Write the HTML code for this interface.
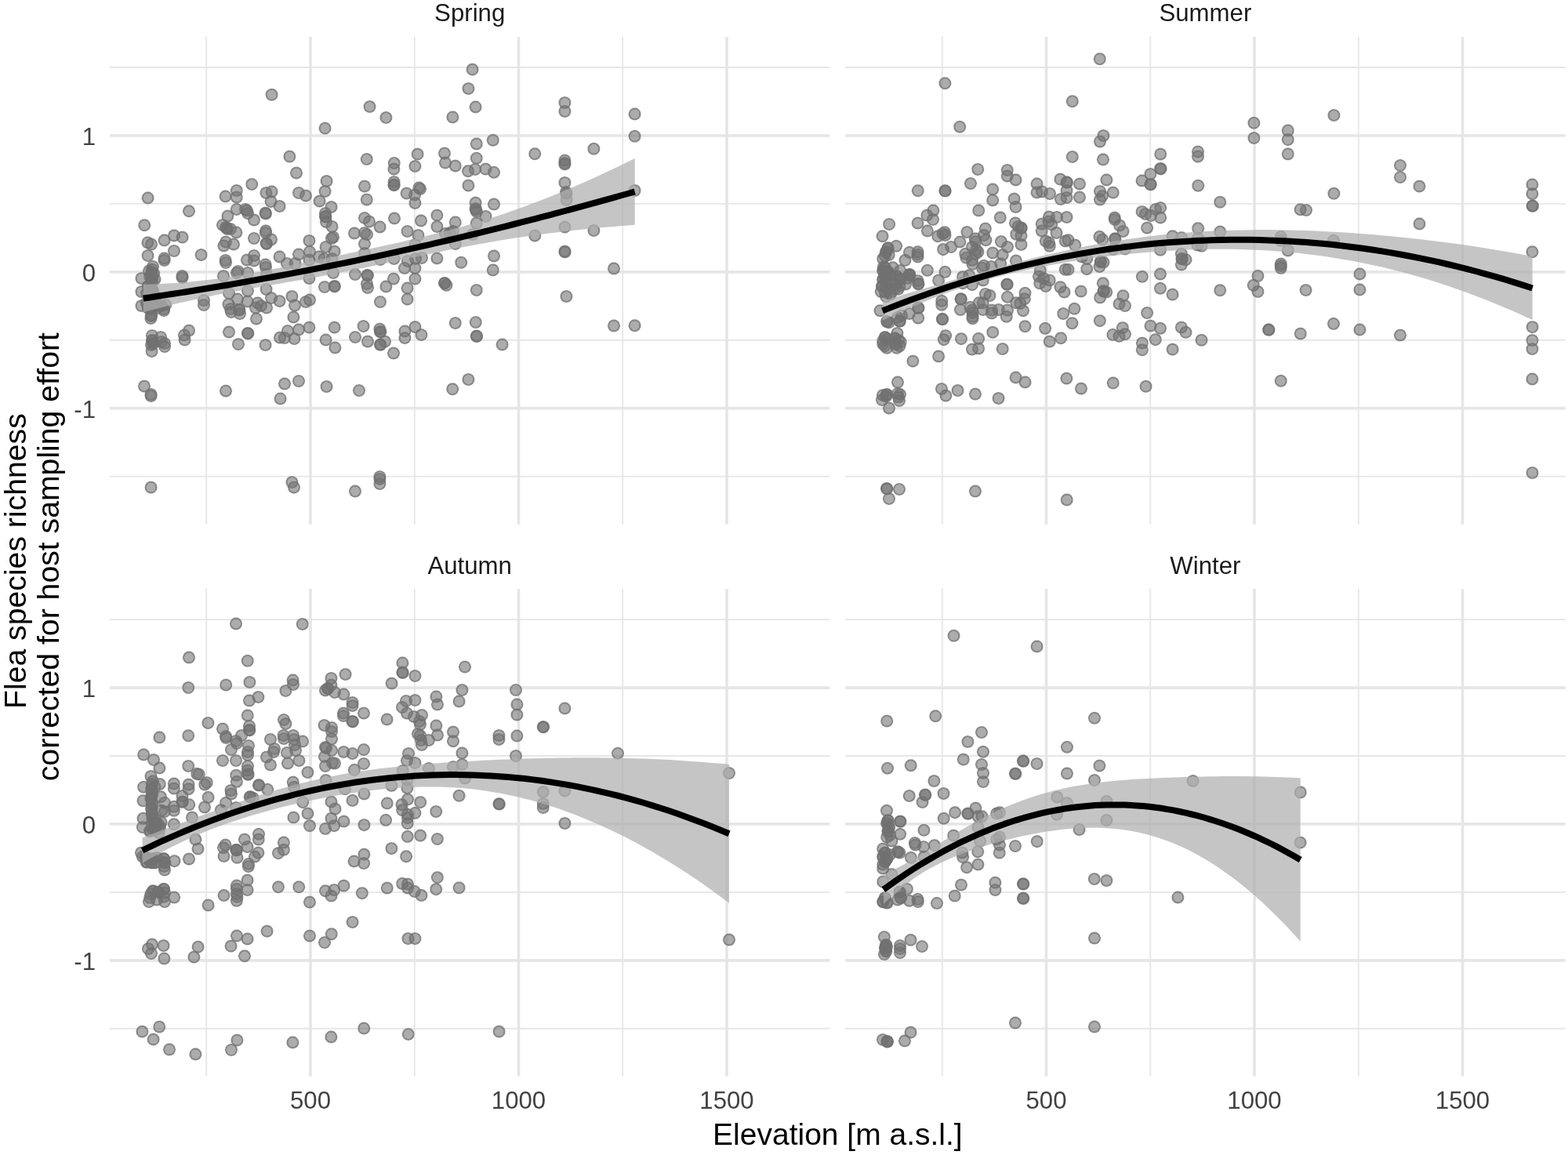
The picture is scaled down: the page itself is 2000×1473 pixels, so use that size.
<!DOCTYPE html>
<html lang="en"><head><meta charset="utf-8"><title>Flea species richness vs elevation by season</title><style>html,body{margin:0;padding:0;background:#fff}body{width:2000px;height:1473px;overflow:hidden}svg{display:block}</style></head><body>
<svg xmlns="http://www.w3.org/2000/svg" width="2000" height="1473" viewBox="0 0 2000 1473">
<defs><radialGradient id="d"><stop offset="0" stop-color="#707070" stop-opacity=".58"/><stop offset=".70" stop-color="#707070" stop-opacity=".58"/><stop offset=".72" stop-color="#707070" stop-opacity=".82"/><stop offset=".93" stop-color="#707070" stop-opacity=".82"/><stop offset=".95" stop-color="#707070" stop-opacity=".58"/><stop offset="1" stop-color="#707070" stop-opacity=".58"/></radialGradient></defs>
<rect width="2000" height="1473" fill="#fff"/>
<g stroke="#e6e6e6" fill="none"><path d="M140.0 607.6H1058.5" stroke-width="1.85"/><path d="M140.0 433.7H1058.5" stroke-width="1.85"/><path d="M140.0 259.9H1058.5" stroke-width="1.85"/><path d="M140.0 86.0H1058.5" stroke-width="1.85"/><path d="M263.2 47.0V668.7" stroke-width="1.85"/><path d="M528.8 47.0V668.7" stroke-width="1.85"/><path d="M794.2 47.0V668.7" stroke-width="1.85"/><path d="M140.0 520.6H1058.5" stroke-width="3.7"/><path d="M140.0 346.8H1058.5" stroke-width="3.7"/><path d="M140.0 173.0H1058.5" stroke-width="3.7"/><path d="M396.0 47.0V668.7" stroke-width="3.7"/><path d="M661.5 47.0V668.7" stroke-width="3.7"/><path d="M927.0 47.0V668.7" stroke-width="3.7"/><path d="M1078.1 607.6H1996.7" stroke-width="1.85"/><path d="M1078.1 433.7H1996.7" stroke-width="1.85"/><path d="M1078.1 259.9H1996.7" stroke-width="1.85"/><path d="M1078.1 86.0H1996.7" stroke-width="1.85"/><path d="M1201.8 47.0V668.7" stroke-width="1.85"/><path d="M1467.2 47.0V668.7" stroke-width="1.85"/><path d="M1732.8 47.0V668.7" stroke-width="1.85"/><path d="M1078.1 520.6H1996.7" stroke-width="3.7"/><path d="M1078.1 346.8H1996.7" stroke-width="3.7"/><path d="M1078.1 173.0H1996.7" stroke-width="3.7"/><path d="M1334.5 47.0V668.7" stroke-width="3.7"/><path d="M1600.0 47.0V668.7" stroke-width="3.7"/><path d="M1865.5 47.0V668.7" stroke-width="3.7"/><path d="M140.0 1311.7H1058.5" stroke-width="1.85"/><path d="M140.0 1137.8H1058.5" stroke-width="1.85"/><path d="M140.0 964.0H1058.5" stroke-width="1.85"/><path d="M140.0 790.1H1058.5" stroke-width="1.85"/><path d="M263.2 751.0V1372.6" stroke-width="1.85"/><path d="M528.8 751.0V1372.6" stroke-width="1.85"/><path d="M794.2 751.0V1372.6" stroke-width="1.85"/><path d="M140.0 1224.8H1058.5" stroke-width="3.7"/><path d="M140.0 1050.9H1058.5" stroke-width="3.7"/><path d="M140.0 877.1H1058.5" stroke-width="3.7"/><path d="M396.0 751.0V1372.6" stroke-width="3.7"/><path d="M661.5 751.0V1372.6" stroke-width="3.7"/><path d="M927.0 751.0V1372.6" stroke-width="3.7"/><path d="M1078.1 1311.7H1996.7" stroke-width="1.85"/><path d="M1078.1 1137.8H1996.7" stroke-width="1.85"/><path d="M1078.1 964.0H1996.7" stroke-width="1.85"/><path d="M1078.1 790.1H1996.7" stroke-width="1.85"/><path d="M1201.8 751.0V1372.6" stroke-width="1.85"/><path d="M1467.2 751.0V1372.6" stroke-width="1.85"/><path d="M1732.8 751.0V1372.6" stroke-width="1.85"/><path d="M1078.1 1224.8H1996.7" stroke-width="3.7"/><path d="M1078.1 1050.9H1996.7" stroke-width="3.7"/><path d="M1078.1 877.1H1996.7" stroke-width="3.7"/><path d="M1334.5 751.0V1372.6" stroke-width="3.7"/><path d="M1600.0 751.0V1372.6" stroke-width="3.7"/><path d="M1865.5 751.0V1372.6" stroke-width="3.7"/></g>
<g fill="url(#d)"><circle cx="346.6" cy="120.8" r="8.1"/><circle cx="471.6" cy="136.0" r="8.1"/><circle cx="492.4" cy="150.0" r="8.1"/><circle cx="414.6" cy="163.6" r="8.1"/><circle cx="369.4" cy="199.6" r="8.1"/><circle cx="467.8" cy="203.0" r="8.1"/><circle cx="532.6" cy="196.6" r="8.1"/><circle cx="567.0" cy="195.6" r="8.1"/><circle cx="502.8" cy="208.0" r="8.1"/><circle cx="502.4" cy="215.6" r="8.1"/><circle cx="529.4" cy="212.0" r="8.1"/><circle cx="568.0" cy="207.6" r="8.1"/><circle cx="378.0" cy="220.6" r="8.1"/><circle cx="416.6" cy="231.0" r="8.1"/><circle cx="321.2" cy="235.0" r="8.1"/><circle cx="502.6" cy="232.0" r="8.1"/><circle cx="502.6" cy="235.6" r="8.1"/><circle cx="502.6" cy="236.2" r="8.1"/><circle cx="465.0" cy="237.6" r="8.1"/><circle cx="301.8" cy="243.0" r="8.1"/><circle cx="339.4" cy="246.0" r="8.1"/><circle cx="346.6" cy="244.4" r="8.1"/><circle cx="414.6" cy="244.0" r="8.1"/><circle cx="381.0" cy="246.0" r="8.1"/><circle cx="390.0" cy="249.6" r="8.1"/><circle cx="534.4" cy="239.4" r="8.1"/><circle cx="536.0" cy="241.0" r="8.1"/><circle cx="518.6" cy="246.6" r="8.1"/><circle cx="529.0" cy="248.6" r="8.1"/><circle cx="287.6" cy="250.4" r="8.1"/><circle cx="301.8" cy="251.6" r="8.1"/><circle cx="188.6" cy="252.4" r="8.1"/><circle cx="407.6" cy="256.6" r="8.1"/><circle cx="345.6" cy="257.0" r="8.1"/><circle cx="467.8" cy="254.6" r="8.1"/><circle cx="529.4" cy="259.0" r="8.1"/><circle cx="356.6" cy="263.0" r="8.1"/><circle cx="422.6" cy="264.0" r="8.1"/><circle cx="301.8" cy="267.0" r="8.1"/><circle cx="313.0" cy="267.0" r="8.1"/><circle cx="315.0" cy="268.6" r="8.1"/><circle cx="316.0" cy="272.0" r="8.1"/><circle cx="241.0" cy="269.2" r="8.1"/><circle cx="338.6" cy="271.6" r="8.1"/><circle cx="339.0" cy="272.6" r="8.1"/><circle cx="415.0" cy="272.0" r="8.1"/><circle cx="415.0" cy="276.0" r="8.1"/><circle cx="415.4" cy="276.6" r="8.1"/><circle cx="290.4" cy="275.6" r="8.1"/><circle cx="324.0" cy="280.6" r="8.1"/><circle cx="557.4" cy="274.6" r="8.1"/><circle cx="503.0" cy="278.4" r="8.1"/><circle cx="465.0" cy="278.0" r="8.1"/><circle cx="471.0" cy="282.6" r="8.1"/><circle cx="537.0" cy="281.4" r="8.1"/><circle cx="416.0" cy="283.0" r="8.1"/><circle cx="184.2" cy="287.2" r="8.1"/><circle cx="284.0" cy="287.0" r="8.1"/><circle cx="288.0" cy="290.0" r="8.1"/><circle cx="290.0" cy="292.0" r="8.1"/><circle cx="294.0" cy="292.0" r="8.1"/><circle cx="289.6" cy="291.0" r="8.1"/><circle cx="423.6" cy="289.0" r="8.1"/><circle cx="484.6" cy="289.4" r="8.1"/><circle cx="557.4" cy="289.0" r="8.1"/><circle cx="339.0" cy="294.4" r="8.1"/><circle cx="339.0" cy="297.0" r="8.1"/><circle cx="301.4" cy="296.4" r="8.1"/><circle cx="519.6" cy="295.0" r="8.1"/><circle cx="452.0" cy="297.4" r="8.1"/><circle cx="465.0" cy="297.0" r="8.1"/><circle cx="468.0" cy="299.0" r="8.1"/><circle cx="533.4" cy="300.0" r="8.1"/><circle cx="222.0" cy="300.4" r="8.1"/><circle cx="232.6" cy="302.6" r="8.1"/><circle cx="324.0" cy="304.0" r="8.1"/><circle cx="425.0" cy="302.4" r="8.1"/><circle cx="423.0" cy="304.0" r="8.1"/><circle cx="209.6" cy="306.4" r="8.1"/><circle cx="394.4" cy="307.0" r="8.1"/><circle cx="346.0" cy="305.4" r="8.1"/><circle cx="339.6" cy="310.2" r="8.1"/><circle cx="340.0" cy="311.0" r="8.1"/><circle cx="188.4" cy="309.4" r="8.1"/><circle cx="193.0" cy="311.6" r="8.1"/><circle cx="288.0" cy="308.6" r="8.1"/><circle cx="298.0" cy="311.6" r="8.1"/><circle cx="285.4" cy="313.4" r="8.1"/><circle cx="465.0" cy="311.0" r="8.1"/><circle cx="529.4" cy="312.0" r="8.1"/><circle cx="415.6" cy="315.0" r="8.1"/><circle cx="568.0" cy="298.0" r="8.1"/><circle cx="222.0" cy="320.0" r="8.1"/><circle cx="426.6" cy="320.6" r="8.1"/><circle cx="395.0" cy="321.0" r="8.1"/><circle cx="188.6" cy="326.0" r="8.1"/><circle cx="256.6" cy="325.0" r="8.1"/><circle cx="381.0" cy="324.4" r="8.1"/><circle cx="324.0" cy="326.0" r="8.1"/><circle cx="356.6" cy="327.4" r="8.1"/><circle cx="407.0" cy="327.4" r="8.1"/><circle cx="465.0" cy="323.0" r="8.1"/><circle cx="209.6" cy="329.4" r="8.1"/><circle cx="209.6" cy="332.0" r="8.1"/><circle cx="315.0" cy="331.6" r="8.1"/><circle cx="324.0" cy="332.4" r="8.1"/><circle cx="287.6" cy="332.0" r="8.1"/><circle cx="288.0" cy="335.0" r="8.1"/><circle cx="394.4" cy="331.6" r="8.1"/><circle cx="423.6" cy="330.0" r="8.1"/><circle cx="413.6" cy="330.0" r="8.1"/><circle cx="338.6" cy="337.4" r="8.1"/><circle cx="366.0" cy="336.0" r="8.1"/><circle cx="376.6" cy="336.0" r="8.1"/><circle cx="502.6" cy="330.0" r="8.1"/><circle cx="485.0" cy="331.0" r="8.1"/><circle cx="538.0" cy="329.0" r="8.1"/><circle cx="557.4" cy="329.4" r="8.1"/><circle cx="530.0" cy="330.0" r="8.1"/><circle cx="520.0" cy="333.0" r="8.1"/><circle cx="602.6" cy="88.6" r="8.1"/><circle cx="597.4" cy="113.0" r="8.1"/><circle cx="606.6" cy="136.4" r="8.1"/><circle cx="577.4" cy="149.4" r="8.1"/><circle cx="720.4" cy="131.0" r="8.1"/><circle cx="720.4" cy="142.0" r="8.1"/><circle cx="809.6" cy="145.4" r="8.1"/><circle cx="809.6" cy="173.8" r="8.1"/><circle cx="628.8" cy="178.8" r="8.1"/><circle cx="607.8" cy="183.4" r="8.1"/><circle cx="757.4" cy="189.8" r="8.1"/><circle cx="682.2" cy="196.2" r="8.1"/><circle cx="607.8" cy="201.8" r="8.1"/><circle cx="720.4" cy="204.6" r="8.1"/><circle cx="720.4" cy="208.0" r="8.1"/><circle cx="720.4" cy="209.4" r="8.1"/><circle cx="580.8" cy="211.6" r="8.1"/><circle cx="597.0" cy="218.2" r="8.1"/><circle cx="606.0" cy="216.0" r="8.1"/><circle cx="619.4" cy="215.6" r="8.1"/><circle cx="630.0" cy="219.8" r="8.1"/><circle cx="597.4" cy="236.6" r="8.1"/><circle cx="720.4" cy="233.0" r="8.1"/><circle cx="722.0" cy="245.0" r="8.1"/><circle cx="722.6" cy="247.0" r="8.1"/><circle cx="722.6" cy="255.0" r="8.1"/><circle cx="809.6" cy="243.0" r="8.1"/><circle cx="606.6" cy="258.6" r="8.1"/><circle cx="630.0" cy="260.4" r="8.1"/><circle cx="606.6" cy="266.0" r="8.1"/><circle cx="607.0" cy="268.0" r="8.1"/><circle cx="608.0" cy="270.0" r="8.1"/><circle cx="619.6" cy="276.0" r="8.1"/><circle cx="580.8" cy="283.4" r="8.1"/><circle cx="607.8" cy="284.6" r="8.1"/><circle cx="578.0" cy="295.0" r="8.1"/><circle cx="574.0" cy="297.0" r="8.1"/><circle cx="720.4" cy="289.6" r="8.1"/><circle cx="757.4" cy="294.0" r="8.1"/><circle cx="682.2" cy="300.6" r="8.1"/><circle cx="603.0" cy="299.0" r="8.1"/><circle cx="580.8" cy="311.0" r="8.1"/><circle cx="720.4" cy="320.6" r="8.1"/><circle cx="720.6" cy="321.4" r="8.1"/><circle cx="630.0" cy="326.4" r="8.1"/><circle cx="588.2" cy="334.8" r="8.1"/><circle cx="180.4" cy="355.0" r="8.1"/><circle cx="232.4" cy="352.0" r="8.1"/><circle cx="232.6" cy="354.0" r="8.1"/><circle cx="285.0" cy="352.0" r="8.1"/><circle cx="302.0" cy="348.0" r="8.1"/><circle cx="303.6" cy="346.0" r="8.1"/><circle cx="316.0" cy="348.0" r="8.1"/><circle cx="339.0" cy="341.0" r="8.1"/><circle cx="340.0" cy="350.0" r="8.1"/><circle cx="516.0" cy="342.0" r="8.1"/><circle cx="529.4" cy="342.0" r="8.1"/><circle cx="453.0" cy="350.0" r="8.1"/><circle cx="468.6" cy="351.0" r="8.1"/><circle cx="468.9" cy="351.3" r="8.1"/><circle cx="425.0" cy="348.0" r="8.1"/><circle cx="394.4" cy="355.0" r="8.1"/><circle cx="529.4" cy="355.6" r="8.1"/><circle cx="502.0" cy="355.6" r="8.1"/><circle cx="468.0" cy="362.0" r="8.1"/><circle cx="469.0" cy="367.0" r="8.1"/><circle cx="414.0" cy="366.0" r="8.1"/><circle cx="426.6" cy="365.0" r="8.1"/><circle cx="426.9" cy="365.3" r="8.1"/><circle cx="492.4" cy="365.4" r="8.1"/><circle cx="519.6" cy="367.4" r="8.1"/><circle cx="567.0" cy="361.0" r="8.1"/><circle cx="567.3" cy="361.3" r="8.1"/><circle cx="339.6" cy="369.0" r="8.1"/><circle cx="316.0" cy="371.0" r="8.1"/><circle cx="292.0" cy="374.0" r="8.1"/><circle cx="180.4" cy="372.0" r="8.1"/><circle cx="372.4" cy="378.0" r="8.1"/><circle cx="346.0" cy="380.0" r="8.1"/><circle cx="303.0" cy="381.4" r="8.1"/><circle cx="395.0" cy="382.4" r="8.1"/><circle cx="390.0" cy="385.0" r="8.1"/><circle cx="519.6" cy="381.6" r="8.1"/><circle cx="485.0" cy="385.0" r="8.1"/><circle cx="356.6" cy="384.0" r="8.1"/><circle cx="315.6" cy="384.4" r="8.1"/><circle cx="328.6" cy="386.4" r="8.1"/><circle cx="291.4" cy="388.0" r="8.1"/><circle cx="260.0" cy="383.0" r="8.1"/><circle cx="260.0" cy="389.0" r="8.1"/><circle cx="376.0" cy="389.4" r="8.1"/><circle cx="180.4" cy="390.0" r="8.1"/><circle cx="333.0" cy="390.0" r="8.1"/><circle cx="340.0" cy="392.4" r="8.1"/><circle cx="326.0" cy="392.4" r="8.1"/><circle cx="209.0" cy="394.0" r="8.1"/><circle cx="294.0" cy="394.0" r="8.1"/><circle cx="295.0" cy="398.0" r="8.1"/><circle cx="305.0" cy="395.0" r="8.1"/><circle cx="305.3" cy="395.3" r="8.1"/><circle cx="306.0" cy="400.0" r="8.1"/><circle cx="193.0" cy="402.0" r="8.1"/><circle cx="192.4" cy="406.0" r="8.1"/><circle cx="327.0" cy="406.6" r="8.1"/><circle cx="374.4" cy="404.4" r="8.1"/><circle cx="394.4" cy="417.6" r="8.1"/><circle cx="426.6" cy="417.6" r="8.1"/><circle cx="463.6" cy="416.0" r="8.1"/><circle cx="484.4" cy="419.6" r="8.1"/><circle cx="485.0" cy="423.0" r="8.1"/><circle cx="485.3" cy="423.3" r="8.1"/><circle cx="529.4" cy="417.0" r="8.1"/><circle cx="516.4" cy="422.4" r="8.1"/><circle cx="241.0" cy="421.6" r="8.1"/><circle cx="381.0" cy="420.4" r="8.1"/><circle cx="367.0" cy="422.0" r="8.1"/><circle cx="292.0" cy="423.4" r="8.1"/><circle cx="316.0" cy="425.0" r="8.1"/><circle cx="316.3" cy="425.3" r="8.1"/><circle cx="235.0" cy="427.4" r="8.1"/><circle cx="537.4" cy="427.0" r="8.1"/><circle cx="194.0" cy="428.0" r="8.1"/><circle cx="205.0" cy="430.0" r="8.1"/><circle cx="453.0" cy="430.0" r="8.1"/><circle cx="357.0" cy="430.6" r="8.1"/><circle cx="363.0" cy="431.0" r="8.1"/><circle cx="375.4" cy="432.0" r="8.1"/><circle cx="516.4" cy="431.0" r="8.1"/><circle cx="235.6" cy="433.4" r="8.1"/><circle cx="415.6" cy="433.4" r="8.1"/><circle cx="469.0" cy="435.6" r="8.1"/><circle cx="491.0" cy="435.6" r="8.1"/><circle cx="485.0" cy="439.4" r="8.1"/><circle cx="485.3" cy="439.7" r="8.1"/><circle cx="194.0" cy="434.0" r="8.1"/><circle cx="194.3" cy="434.3" r="8.1"/><circle cx="195.0" cy="438.0" r="8.1"/><circle cx="195.3" cy="438.3" r="8.1"/><circle cx="193.0" cy="440.0" r="8.1"/><circle cx="206.0" cy="436.0" r="8.1"/><circle cx="210.0" cy="438.0" r="8.1"/><circle cx="210.0" cy="442.0" r="8.1"/><circle cx="304.0" cy="439.0" r="8.1"/><circle cx="338.6" cy="440.0" r="8.1"/><circle cx="427.4" cy="443.4" r="8.1"/><circle cx="193.6" cy="448.0" r="8.1"/><circle cx="502.0" cy="450.4" r="8.1"/><circle cx="184.0" cy="492.6" r="8.1"/><circle cx="192.6" cy="503.0" r="8.1"/><circle cx="192.6" cy="505.0" r="8.1"/><circle cx="288.0" cy="498.6" r="8.1"/><circle cx="363.0" cy="489.4" r="8.1"/><circle cx="381.0" cy="486.0" r="8.1"/><circle cx="357.6" cy="508.4" r="8.1"/><circle cx="416.6" cy="493.0" r="8.1"/><circle cx="458.0" cy="498.0" r="8.1"/><circle cx="192.6" cy="621.6" r="8.1"/><circle cx="372.4" cy="615.0" r="8.1"/><circle cx="375.0" cy="621.6" r="8.1"/><circle cx="484.4" cy="608.0" r="8.1"/><circle cx="484.4" cy="611.0" r="8.1"/><circle cx="484.4" cy="617.0" r="8.1"/><circle cx="453.0" cy="626.4" r="8.1"/><circle cx="628.8" cy="344.4" r="8.1"/><circle cx="783.0" cy="342.4" r="8.1"/><circle cx="607.8" cy="370.0" r="8.1"/><circle cx="722.4" cy="378.0" r="8.1"/><circle cx="580.8" cy="412.0" r="8.1"/><circle cx="606.8" cy="411.0" r="8.1"/><circle cx="783.0" cy="415.4" r="8.1"/><circle cx="809.6" cy="415.2" r="8.1"/><circle cx="607.8" cy="428.6" r="8.1"/><circle cx="608.1" cy="428.9" r="8.1"/><circle cx="640.6" cy="439.4" r="8.1"/><circle cx="597.4" cy="484.0" r="8.1"/><circle cx="577.2" cy="496.2" r="8.1"/><circle cx="195.0" cy="340.0" r="8.1"/><circle cx="194.0" cy="343.5" r="8.1"/><circle cx="193.2" cy="347.0" r="8.1"/><circle cx="193.5" cy="350.5" r="8.1"/><circle cx="194.0" cy="354.0" r="8.1"/><circle cx="194.5" cy="357.0" r="8.1"/><circle cx="193.8" cy="348.5" r="8.1"/><circle cx="193.0" cy="403.0" r="8.1"/><circle cx="209.0" cy="396.0" r="8.1"/><circle cx="190.0" cy="345.6" r="8.1"/><circle cx="196.2" cy="348.8" r="8.1"/><circle cx="191.2" cy="353.1" r="8.1"/><circle cx="197.5" cy="356.2" r="8.1"/><circle cx="193.1" cy="360.0" r="8.1"/><circle cx="188.8" cy="365.0" r="8.1"/><circle cx="189.1" cy="365.3" r="8.1"/><circle cx="193.1" cy="366.2" r="8.1"/><circle cx="193.4" cy="366.6" r="8.1"/><circle cx="190.0" cy="370.0" r="8.1"/><circle cx="190.3" cy="370.3" r="8.1"/><circle cx="195.0" cy="371.2" r="8.1"/><circle cx="195.3" cy="371.6" r="8.1"/><circle cx="191.2" cy="375.0" r="8.1"/><circle cx="191.6" cy="375.3" r="8.1"/><circle cx="186.9" cy="373.8" r="8.1"/><circle cx="186.9" cy="386.2" r="8.1"/><circle cx="187.2" cy="386.6" r="8.1"/><circle cx="191.2" cy="387.5" r="8.1"/><circle cx="191.6" cy="387.8" r="8.1"/><circle cx="196.2" cy="388.8" r="8.1"/><circle cx="196.6" cy="389.1" r="8.1"/><circle cx="201.2" cy="387.5" r="8.1"/><circle cx="201.6" cy="387.8" r="8.1"/><circle cx="206.2" cy="390.0" r="8.1"/><circle cx="211.2" cy="388.8" r="8.1"/><circle cx="188.8" cy="392.5" r="8.1"/><circle cx="189.1" cy="392.8" r="8.1"/><circle cx="193.8" cy="393.8" r="8.1"/><circle cx="194.1" cy="394.1" r="8.1"/><circle cx="200.0" cy="393.1" r="8.1"/><circle cx="569.4" cy="363.8" r="8.1"/></g>
<g fill="url(#d)"><circle cx="1402.8" cy="75.2" r="8.1"/><circle cx="1205.4" cy="106.2" r="8.1"/><circle cx="1367.8" cy="129.2" r="8.1"/><circle cx="1224.2" cy="161.8" r="8.1"/><circle cx="1407.4" cy="173.0" r="8.1"/><circle cx="1403.0" cy="180.6" r="8.1"/><circle cx="1367.8" cy="200.0" r="8.1"/><circle cx="1407.0" cy="203.4" r="8.1"/><circle cx="1480.2" cy="196.6" r="8.1"/><circle cx="1480.2" cy="215.0" r="8.1"/><circle cx="1480.5" cy="215.3" r="8.1"/><circle cx="1247.2" cy="216.0" r="8.1"/><circle cx="1284.8" cy="217.0" r="8.1"/><circle cx="1284.8" cy="224.6" r="8.1"/><circle cx="1467.4" cy="222.0" r="8.1"/><circle cx="1295.6" cy="229.4" r="8.1"/><circle cx="1352.4" cy="228.6" r="8.1"/><circle cx="1360.6" cy="232.4" r="8.1"/><circle cx="1360.9" cy="232.7" r="8.1"/><circle cx="1411.4" cy="229.4" r="8.1"/><circle cx="1456.6" cy="230.4" r="8.1"/><circle cx="1467.4" cy="235.0" r="8.1"/><circle cx="1467.7" cy="235.3" r="8.1"/><circle cx="1238.0" cy="234.0" r="8.1"/><circle cx="1322.6" cy="234.4" r="8.1"/><circle cx="1377.0" cy="234.6" r="8.1"/><circle cx="1170.8" cy="243.2" r="8.1"/><circle cx="1205.4" cy="243.2" r="8.1"/><circle cx="1205.7" cy="243.5" r="8.1"/><circle cx="1266.2" cy="241.4" r="8.1"/><circle cx="1360.6" cy="243.0" r="8.1"/><circle cx="1322.6" cy="245.4" r="8.1"/><circle cx="1329.0" cy="244.4" r="8.1"/><circle cx="1339.0" cy="247.0" r="8.1"/><circle cx="1403.0" cy="244.0" r="8.1"/><circle cx="1419.8" cy="245.6" r="8.1"/><circle cx="1406.0" cy="250.0" r="8.1"/><circle cx="1377.0" cy="251.6" r="8.1"/><circle cx="1360.6" cy="252.0" r="8.1"/><circle cx="1353.0" cy="254.0" r="8.1"/><circle cx="1403.0" cy="254.4" r="8.1"/><circle cx="1293.6" cy="253.6" r="8.1"/><circle cx="1266.2" cy="255.4" r="8.1"/><circle cx="1295.6" cy="264.0" r="8.1"/><circle cx="1248.2" cy="268.4" r="8.1"/><circle cx="1190.4" cy="268.4" r="8.1"/><circle cx="1480.2" cy="265.0" r="8.1"/><circle cx="1474.0" cy="267.0" r="8.1"/><circle cx="1456.6" cy="270.0" r="8.1"/><circle cx="1461.0" cy="273.0" r="8.1"/><circle cx="1468.0" cy="275.0" r="8.1"/><circle cx="1182.4" cy="274.6" r="8.1"/><circle cx="1480.2" cy="277.6" r="8.1"/><circle cx="1338.0" cy="276.6" r="8.1"/><circle cx="1348.0" cy="277.0" r="8.1"/><circle cx="1360.6" cy="277.0" r="8.1"/><circle cx="1275.8" cy="277.4" r="8.1"/><circle cx="1421.8" cy="277.6" r="8.1"/><circle cx="1134.1" cy="286.0" r="8.1"/><circle cx="1170.6" cy="284.6" r="8.1"/><circle cx="1125.6" cy="301.2" r="8.1"/><circle cx="1182.9" cy="294.4" r="8.1"/><circle cx="1190.0" cy="280.0" r="8.1"/><circle cx="1143.1" cy="313.8" r="8.1"/><circle cx="1205.0" cy="296.2" r="8.1"/><circle cx="1205.6" cy="300.0" r="8.1"/><circle cx="1202.5" cy="298.1" r="8.1"/><circle cx="1196.2" cy="301.2" r="8.1"/><circle cx="1233.4" cy="296.0" r="8.1"/><circle cx="1256.9" cy="291.6" r="8.1"/><circle cx="1255.0" cy="300.0" r="8.1"/><circle cx="1257.5" cy="306.2" r="8.1"/><circle cx="1243.8" cy="304.4" r="8.1"/><circle cx="1244.4" cy="308.1" r="8.1"/><circle cx="1224.4" cy="308.5" r="8.1"/><circle cx="1276.9" cy="308.1" r="8.1"/><circle cx="1295.0" cy="284.4" r="8.1"/><circle cx="1298.8" cy="288.8" r="8.1"/><circle cx="1302.5" cy="290.6" r="8.1"/><circle cx="1302.8" cy="290.9" r="8.1"/><circle cx="1296.2" cy="298.8" r="8.1"/><circle cx="1302.5" cy="300.6" r="8.1"/><circle cx="1302.5" cy="311.9" r="8.1"/><circle cx="1328.8" cy="285.6" r="8.1"/><circle cx="1337.5" cy="282.5" r="8.1"/><circle cx="1341.2" cy="286.2" r="8.1"/><circle cx="1328.8" cy="294.4" r="8.1"/><circle cx="1347.5" cy="296.9" r="8.1"/><circle cx="1333.8" cy="307.5" r="8.1"/><circle cx="1338.1" cy="309.4" r="8.1"/><circle cx="1338.8" cy="313.8" r="8.1"/><circle cx="1358.8" cy="307.5" r="8.1"/><circle cx="1132.5" cy="316.2" r="8.1"/><circle cx="1132.8" cy="316.6" r="8.1"/><circle cx="1130.0" cy="321.2" r="8.1"/><circle cx="1130.3" cy="321.6" r="8.1"/><circle cx="1128.8" cy="326.2" r="8.1"/><circle cx="1126.2" cy="330.0" r="8.1"/><circle cx="1133.8" cy="325.0" r="8.1"/><circle cx="1160.0" cy="321.9" r="8.1"/><circle cx="1170.6" cy="321.2" r="8.1"/><circle cx="1170.6" cy="324.4" r="8.1"/><circle cx="1170.6" cy="327.5" r="8.1"/><circle cx="1154.4" cy="331.9" r="8.1"/><circle cx="1203.1" cy="318.1" r="8.1"/><circle cx="1213.1" cy="315.0" r="8.1"/><circle cx="1285.0" cy="315.0" r="8.1"/><circle cx="1240.0" cy="315.0" r="8.1"/><circle cx="1245.0" cy="318.8" r="8.1"/><circle cx="1247.5" cy="321.2" r="8.1"/><circle cx="1244.4" cy="323.8" r="8.1"/><circle cx="1231.2" cy="323.8" r="8.1"/><circle cx="1232.5" cy="328.8" r="8.1"/><circle cx="1266.2" cy="322.5" r="8.1"/><circle cx="1278.8" cy="325.0" r="8.1"/><circle cx="1240.6" cy="336.9" r="8.1"/><circle cx="1240.0" cy="331.9" r="8.1"/><circle cx="1255.0" cy="338.8" r="8.1"/><circle cx="1253.1" cy="341.9" r="8.1"/><circle cx="1264.4" cy="340.0" r="8.1"/><circle cx="1276.2" cy="336.2" r="8.1"/><circle cx="1295.9" cy="332.5" r="8.1"/><circle cx="1182.9" cy="344.8" r="8.1"/><circle cx="1205.4" cy="346.9" r="8.1"/><circle cx="1148.1" cy="345.0" r="8.1"/><circle cx="1138.8" cy="341.2" r="8.1"/><circle cx="1128.8" cy="341.2" r="8.1"/><circle cx="1129.0" cy="341.6" r="8.1"/><circle cx="1126.2" cy="345.0" r="8.1"/><circle cx="1126.5" cy="345.3" r="8.1"/><circle cx="1131.2" cy="346.2" r="8.1"/><circle cx="1131.5" cy="346.6" r="8.1"/><circle cx="1135.0" cy="350.0" r="8.1"/><circle cx="1135.3" cy="350.3" r="8.1"/><circle cx="1128.8" cy="351.2" r="8.1"/><circle cx="1129.0" cy="351.6" r="8.1"/><circle cx="1160.0" cy="350.6" r="8.1"/><circle cx="1160.3" cy="350.9" r="8.1"/><circle cx="1157.5" cy="355.0" r="8.1"/><circle cx="1143.8" cy="352.5" r="8.1"/><circle cx="1144.0" cy="352.8" r="8.1"/><circle cx="1147.5" cy="356.2" r="8.1"/><circle cx="1171.2" cy="361.9" r="8.1"/><circle cx="1171.5" cy="362.2" r="8.1"/><circle cx="1197.1" cy="357.5" r="8.1"/><circle cx="1228.1" cy="353.1" r="8.1"/><circle cx="1236.2" cy="351.2" r="8.1"/><circle cx="1240.0" cy="363.1" r="8.1"/><circle cx="1253.8" cy="357.5" r="8.1"/><circle cx="1228.1" cy="361.2" r="8.1"/><circle cx="1284.4" cy="362.5" r="8.1"/><circle cx="1284.7" cy="362.8" r="8.1"/><circle cx="1326.9" cy="345.0" r="8.1"/><circle cx="1325.0" cy="352.5" r="8.1"/><circle cx="1331.2" cy="355.0" r="8.1"/><circle cx="1338.8" cy="357.5" r="8.1"/><circle cx="1326.2" cy="361.2" r="8.1"/><circle cx="1333.8" cy="365.0" r="8.1"/><circle cx="1358.8" cy="343.8" r="8.1"/><circle cx="1352.5" cy="366.2" r="8.1"/><circle cx="1357.5" cy="372.5" r="8.1"/><circle cx="1126.2" cy="356.2" r="8.1"/><circle cx="1126.5" cy="356.6" r="8.1"/><circle cx="1130.0" cy="360.0" r="8.1"/><circle cx="1130.3" cy="360.3" r="8.1"/><circle cx="1125.0" cy="365.0" r="8.1"/><circle cx="1125.3" cy="365.3" r="8.1"/><circle cx="1131.2" cy="367.5" r="8.1"/><circle cx="1131.5" cy="367.8" r="8.1"/><circle cx="1137.5" cy="362.5" r="8.1"/><circle cx="1137.8" cy="362.8" r="8.1"/><circle cx="1141.2" cy="368.8" r="8.1"/><circle cx="1147.5" cy="365.0" r="8.1"/><circle cx="1128.8" cy="372.5" r="8.1"/><circle cx="1135.0" cy="375.0" r="8.1"/><circle cx="1256.9" cy="375.0" r="8.1"/><circle cx="1262.5" cy="376.9" r="8.1"/><circle cx="1225.6" cy="381.2" r="8.1"/><circle cx="1225.9" cy="381.6" r="8.1"/><circle cx="1285.0" cy="378.8" r="8.1"/><circle cx="1307.5" cy="373.8" r="8.1"/><circle cx="1306.9" cy="381.2" r="8.1"/><circle cx="1201.2" cy="383.8" r="8.1"/><circle cx="1201.2" cy="388.8" r="8.1"/><circle cx="1248.8" cy="386.2" r="8.1"/><circle cx="1253.8" cy="386.2" r="8.1"/><circle cx="1296.2" cy="386.2" r="8.1"/><circle cx="1301.2" cy="386.9" r="8.1"/><circle cx="1171.2" cy="392.5" r="8.1"/><circle cx="1171.5" cy="392.8" r="8.1"/><circle cx="1225.0" cy="395.0" r="8.1"/><circle cx="1237.5" cy="391.9" r="8.1"/><circle cx="1240.0" cy="395.6" r="8.1"/><circle cx="1240.6" cy="398.8" r="8.1"/><circle cx="1240.6" cy="403.8" r="8.1"/><circle cx="1240.6" cy="406.2" r="8.1"/><circle cx="1253.8" cy="395.0" r="8.1"/><circle cx="1265.0" cy="395.6" r="8.1"/><circle cx="1265.0" cy="399.4" r="8.1"/><circle cx="1273.8" cy="395.0" r="8.1"/><circle cx="1285.0" cy="395.6" r="8.1"/><circle cx="1283.8" cy="403.8" r="8.1"/><circle cx="1305.0" cy="396.2" r="8.1"/><circle cx="1201.9" cy="406.9" r="8.1"/><circle cx="1202.2" cy="407.2" r="8.1"/><circle cx="1160.0" cy="400.0" r="8.1"/><circle cx="1171.2" cy="405.6" r="8.1"/><circle cx="1122.5" cy="396.2" r="8.1"/><circle cx="1131.2" cy="410.0" r="8.1"/><circle cx="1131.5" cy="410.3" r="8.1"/><circle cx="1133.8" cy="411.2" r="8.1"/><circle cx="1147.5" cy="409.4" r="8.1"/><circle cx="1147.8" cy="409.7" r="8.1"/><circle cx="1145.0" cy="405.0" r="8.1"/><circle cx="1150.0" cy="402.5" r="8.1"/><circle cx="1356.2" cy="400.0" r="8.1"/><circle cx="1307.5" cy="416.2" r="8.1"/><circle cx="1333.1" cy="418.8" r="8.1"/><circle cx="1266.2" cy="423.8" r="8.1"/><circle cx="1144.4" cy="425.0" r="8.1"/><circle cx="1128.8" cy="430.0" r="8.1"/><circle cx="1129.0" cy="430.3" r="8.1"/><circle cx="1131.2" cy="432.5" r="8.1"/><circle cx="1126.2" cy="435.0" r="8.1"/><circle cx="1141.2" cy="431.2" r="8.1"/><circle cx="1141.5" cy="431.6" r="8.1"/><circle cx="1146.2" cy="433.8" r="8.1"/><circle cx="1148.8" cy="436.2" r="8.1"/><circle cx="1142.5" cy="438.8" r="8.1"/><circle cx="1142.8" cy="439.1" r="8.1"/><circle cx="1128.8" cy="441.2" r="8.1"/><circle cx="1131.2" cy="443.8" r="8.1"/><circle cx="1126.2" cy="438.8" r="8.1"/><circle cx="1143.8" cy="443.8" r="8.1"/><circle cx="1147.5" cy="441.2" r="8.1"/><circle cx="1206.2" cy="428.1" r="8.1"/><circle cx="1203.8" cy="433.1" r="8.1"/><circle cx="1226.0" cy="432.1" r="8.1"/><circle cx="1248.1" cy="431.9" r="8.1"/><circle cx="1240.0" cy="445.6" r="8.1"/><circle cx="1248.1" cy="444.4" r="8.1"/><circle cx="1278.8" cy="445.0" r="8.1"/><circle cx="1338.8" cy="435.6" r="8.1"/><circle cx="1353.1" cy="431.2" r="8.1"/><circle cx="1197.1" cy="454.4" r="8.1"/><circle cx="1421.9" cy="280.0" r="8.1"/><circle cx="1428.1" cy="287.5" r="8.1"/><circle cx="1432.5" cy="295.0" r="8.1"/><circle cx="1463.1" cy="290.6" r="8.1"/><circle cx="1528.1" cy="291.2" r="8.1"/><circle cx="1556.2" cy="295.6" r="8.1"/><circle cx="1402.5" cy="301.9" r="8.1"/><circle cx="1406.2" cy="305.6" r="8.1"/><circle cx="1422.1" cy="304.4" r="8.1"/><circle cx="1422.4" cy="304.7" r="8.1"/><circle cx="1362.5" cy="306.2" r="8.1"/><circle cx="1371.2" cy="312.5" r="8.1"/><circle cx="1495.6" cy="301.2" r="8.1"/><circle cx="1506.9" cy="303.1" r="8.1"/><circle cx="1528.1" cy="303.8" r="8.1"/><circle cx="1532.5" cy="313.8" r="8.1"/><circle cx="1527.5" cy="312.5" r="8.1"/><circle cx="1480.0" cy="318.8" r="8.1"/><circle cx="1435.0" cy="317.5" r="8.1"/><circle cx="1420.0" cy="318.1" r="8.1"/><circle cx="1506.9" cy="323.8" r="8.1"/><circle cx="1507.5" cy="330.0" r="8.1"/><circle cx="1507.8" cy="330.3" r="8.1"/><circle cx="1512.5" cy="331.2" r="8.1"/><circle cx="1506.9" cy="337.5" r="8.1"/><circle cx="1386.2" cy="330.0" r="8.1"/><circle cx="1380.0" cy="327.5" r="8.1"/><circle cx="1403.8" cy="333.8" r="8.1"/><circle cx="1404.0" cy="334.1" r="8.1"/><circle cx="1407.5" cy="334.4" r="8.1"/><circle cx="1402.5" cy="340.0" r="8.1"/><circle cx="1362.5" cy="343.8" r="8.1"/><circle cx="1386.2" cy="343.1" r="8.1"/><circle cx="1480.0" cy="349.4" r="8.1"/><circle cx="1456.9" cy="352.8" r="8.1"/><circle cx="1604.4" cy="351.9" r="8.1"/><circle cx="1406.9" cy="361.2" r="8.1"/><circle cx="1480.0" cy="367.8" r="8.1"/><circle cx="1598.8" cy="363.8" r="8.1"/><circle cx="1604.4" cy="371.9" r="8.1"/><circle cx="1378.8" cy="371.5" r="8.1"/><circle cx="1407.5" cy="371.2" r="8.1"/><circle cx="1407.8" cy="371.6" r="8.1"/><circle cx="1411.2" cy="372.5" r="8.1"/><circle cx="1403.1" cy="379.4" r="8.1"/><circle cx="1495.6" cy="375.6" r="8.1"/><circle cx="1556.2" cy="370.2" r="8.1"/><circle cx="1432.5" cy="377.2" r="8.1"/><circle cx="1427.5" cy="387.5" r="8.1"/><circle cx="1435.0" cy="390.0" r="8.1"/><circle cx="1370.4" cy="393.8" r="8.1"/><circle cx="1463.1" cy="399.0" r="8.1"/><circle cx="1367.5" cy="412.2" r="8.1"/><circle cx="1402.9" cy="409.1" r="8.1"/><circle cx="1431.9" cy="418.1" r="8.1"/><circle cx="1467.5" cy="415.6" r="8.1"/><circle cx="1480.0" cy="418.8" r="8.1"/><circle cx="1506.9" cy="417.5" r="8.1"/><circle cx="1512.5" cy="423.8" r="8.1"/><circle cx="1419.4" cy="426.9" r="8.1"/><circle cx="1427.5" cy="428.8" r="8.1"/><circle cx="1435.0" cy="426.2" r="8.1"/><circle cx="1473.8" cy="433.1" r="8.1"/><circle cx="1532.5" cy="433.8" r="8.1"/><circle cx="1456.9" cy="437.5" r="8.1"/><circle cx="1456.9" cy="446.2" r="8.1"/><circle cx="1495.6" cy="445.6" r="8.1"/><circle cx="1701.4" cy="147.0" r="8.1"/><circle cx="1599.4" cy="156.8" r="8.1"/><circle cx="1642.8" cy="166.4" r="8.1"/><circle cx="1599.4" cy="176.0" r="8.1"/><circle cx="1642.8" cy="178.0" r="8.1"/><circle cx="1528.0" cy="193.6" r="8.1"/><circle cx="1528.0" cy="199.6" r="8.1"/><circle cx="1642.8" cy="196.4" r="8.1"/><circle cx="1786.0" cy="211.0" r="8.1"/><circle cx="1786.0" cy="226.0" r="8.1"/><circle cx="1528.2" cy="236.8" r="8.1"/><circle cx="1810.4" cy="237.6" r="8.1"/><circle cx="1701.4" cy="246.8" r="8.1"/><circle cx="1556.2" cy="257.8" r="8.1"/><circle cx="1658.6" cy="267.2" r="8.1"/><circle cx="1666.0" cy="268.0" r="8.1"/><circle cx="1810.5" cy="285.4" r="8.1"/><circle cx="1633.8" cy="301.9" r="8.1"/><circle cx="1633.8" cy="306.9" r="8.1"/><circle cx="1701.0" cy="306.9" r="8.1"/><circle cx="1642.8" cy="319.4" r="8.1"/><circle cx="1633.8" cy="336.5" r="8.1"/><circle cx="1633.8" cy="339.0" r="8.1"/><circle cx="1633.8" cy="341.9" r="8.1"/><circle cx="1734.4" cy="349.4" r="8.1"/><circle cx="1665.6" cy="370.0" r="8.1"/><circle cx="1734.4" cy="369.4" r="8.1"/><circle cx="1701.0" cy="412.9" r="8.1"/><circle cx="1618.1" cy="420.4" r="8.1"/><circle cx="1618.4" cy="420.7" r="8.1"/><circle cx="1658.8" cy="425.6" r="8.1"/><circle cx="1734.4" cy="420.4" r="8.1"/><circle cx="1786.0" cy="427.5" r="8.1"/><circle cx="1954.4" cy="235.4" r="8.1"/><circle cx="1954.4" cy="247.2" r="8.1"/><circle cx="1954.6" cy="262.5" r="8.1"/><circle cx="1954.9" cy="262.8" r="8.1"/><circle cx="1954.4" cy="321.2" r="8.1"/><circle cx="1954.6" cy="417.1" r="8.1"/><circle cx="1954.4" cy="434.0" r="8.1"/><circle cx="1954.4" cy="445.0" r="8.1"/><circle cx="1954.4" cy="483.4" r="8.1"/><circle cx="1954.5" cy="603.0" r="8.1"/><circle cx="1164.4" cy="460.6" r="8.1"/><circle cx="1145.0" cy="487.4" r="8.1"/><circle cx="1295.6" cy="481.4" r="8.1"/><circle cx="1307.6" cy="487.4" r="8.1"/><circle cx="1360.4" cy="482.6" r="8.1"/><circle cx="1379.0" cy="495.6" r="8.1"/><circle cx="1419.8" cy="488.4" r="8.1"/><circle cx="1461.6" cy="492.8" r="8.1"/><circle cx="1201.0" cy="496.0" r="8.1"/><circle cx="1206.4" cy="504.6" r="8.1"/><circle cx="1221.6" cy="498.0" r="8.1"/><circle cx="1244.0" cy="502.6" r="8.1"/><circle cx="1273.6" cy="508.0" r="8.1"/><circle cx="1126.0" cy="504.0" r="8.1"/><circle cx="1131.0" cy="503.0" r="8.1"/><circle cx="1131.3" cy="503.3" r="8.1"/><circle cx="1130.0" cy="505.6" r="8.1"/><circle cx="1145.0" cy="502.0" r="8.1"/><circle cx="1148.0" cy="503.0" r="8.1"/><circle cx="1146.0" cy="506.4" r="8.1"/><circle cx="1125.0" cy="510.0" r="8.1"/><circle cx="1147.0" cy="511.0" r="8.1"/><circle cx="1134.0" cy="520.6" r="8.1"/><circle cx="1131.0" cy="623.0" r="8.1"/><circle cx="1131.3" cy="623.3" r="8.1"/><circle cx="1147.0" cy="624.0" r="8.1"/><circle cx="1134.0" cy="636.0" r="8.1"/><circle cx="1244.0" cy="626.4" r="8.1"/><circle cx="1360.8" cy="637.4" r="8.1"/><circle cx="1633.8" cy="485.8" r="8.1"/><circle cx="1160.0" cy="350.0" r="8.1"/><circle cx="1160.3" cy="350.3" r="8.1"/><circle cx="1170.6" cy="358.1" r="8.1"/><circle cx="1148.8" cy="356.2" r="8.1"/><circle cx="1155.0" cy="362.5" r="8.1"/><circle cx="1145.6" cy="368.8" r="8.1"/><circle cx="1136.2" cy="375.0" r="8.1"/><circle cx="1130.0" cy="378.1" r="8.1"/><circle cx="1123.8" cy="371.9" r="8.1"/><circle cx="1142.5" cy="362.5" r="8.1"/><circle cx="1133.1" cy="346.9" r="8.1"/><circle cx="1126.9" cy="340.6" r="8.1"/></g>
<g fill="url(#d)"><circle cx="301.0" cy="795.4" r="8.1"/><circle cx="385.8" cy="796.0" r="8.1"/><circle cx="241.0" cy="838.4" r="8.1"/><circle cx="315.8" cy="842.8" r="8.1"/><circle cx="513.4" cy="845.4" r="8.1"/><circle cx="513.4" cy="857.6" r="8.1"/><circle cx="513.7" cy="857.9" r="8.1"/><circle cx="440.6" cy="860.0" r="8.1"/><circle cx="529.4" cy="862.0" r="8.1"/><circle cx="373.6" cy="867.4" r="8.1"/><circle cx="374.0" cy="873.0" r="8.1"/><circle cx="422.4" cy="865.0" r="8.1"/><circle cx="318.4" cy="870.0" r="8.1"/><circle cx="499.6" cy="871.6" r="8.1"/><circle cx="288.2" cy="873.6" r="8.1"/><circle cx="422.4" cy="873.6" r="8.1"/><circle cx="418.0" cy="878.0" r="8.1"/><circle cx="418.3" cy="878.3" r="8.1"/><circle cx="415.0" cy="880.4" r="8.1"/><circle cx="427.0" cy="883.0" r="8.1"/><circle cx="240.2" cy="877.0" r="8.1"/><circle cx="364.4" cy="881.0" r="8.1"/><circle cx="438.4" cy="885.4" r="8.1"/><circle cx="329.4" cy="889.0" r="8.1"/><circle cx="318.0" cy="893.4" r="8.1"/><circle cx="529.4" cy="893.0" r="8.1"/><circle cx="518.0" cy="894.0" r="8.1"/><circle cx="556.4" cy="888.4" r="8.1"/><circle cx="558.0" cy="898.4" r="8.1"/><circle cx="449.6" cy="896.0" r="8.1"/><circle cx="449.6" cy="900.0" r="8.1"/><circle cx="513.0" cy="902.0" r="8.1"/><circle cx="519.0" cy="909.6" r="8.1"/><circle cx="438.0" cy="909.6" r="8.1"/><circle cx="438.0" cy="913.0" r="8.1"/><circle cx="464.0" cy="909.6" r="8.1"/><circle cx="449.6" cy="920.0" r="8.1"/><circle cx="449.9" cy="920.3" r="8.1"/><circle cx="315.8" cy="912.4" r="8.1"/><circle cx="362.0" cy="918.0" r="8.1"/><circle cx="364.4" cy="923.0" r="8.1"/><circle cx="493.6" cy="917.4" r="8.1"/><circle cx="528.0" cy="914.0" r="8.1"/><circle cx="538.0" cy="912.0" r="8.1"/><circle cx="535.0" cy="920.0" r="8.1"/><circle cx="536.0" cy="924.0" r="8.1"/><circle cx="265.4" cy="922.0" r="8.1"/><circle cx="413.6" cy="925.0" r="8.1"/><circle cx="423.0" cy="928.0" r="8.1"/><circle cx="423.0" cy="933.0" r="8.1"/><circle cx="318.0" cy="926.0" r="8.1"/><circle cx="318.0" cy="931.0" r="8.1"/><circle cx="318.3" cy="931.3" r="8.1"/><circle cx="556.4" cy="925.4" r="8.1"/><circle cx="284.0" cy="929.6" r="8.1"/><circle cx="288.0" cy="939.0" r="8.1"/><circle cx="288.4" cy="941.0" r="8.1"/><circle cx="308.0" cy="938.0" r="8.1"/><circle cx="301.0" cy="945.0" r="8.1"/><circle cx="302.0" cy="948.0" r="8.1"/><circle cx="203.4" cy="940.4" r="8.1"/><circle cx="240.2" cy="938.2" r="8.1"/><circle cx="361.6" cy="938.0" r="8.1"/><circle cx="362.0" cy="942.0" r="8.1"/><circle cx="374.0" cy="938.0" r="8.1"/><circle cx="375.0" cy="943.0" r="8.1"/><circle cx="386.0" cy="945.4" r="8.1"/><circle cx="345.0" cy="943.0" r="8.1"/><circle cx="423.0" cy="942.4" r="8.1"/><circle cx="533.0" cy="936.0" r="8.1"/><circle cx="536.0" cy="938.0" r="8.1"/><circle cx="537.0" cy="944.0" r="8.1"/><circle cx="538.0" cy="950.0" r="8.1"/><circle cx="547.0" cy="944.0" r="8.1"/><circle cx="558.0" cy="937.4" r="8.1"/><circle cx="317.0" cy="951.0" r="8.1"/><circle cx="376.0" cy="950.0" r="8.1"/><circle cx="415.0" cy="953.0" r="8.1"/><circle cx="416.0" cy="954.0" r="8.1"/><circle cx="423.0" cy="957.0" r="8.1"/><circle cx="350.0" cy="955.0" r="8.1"/><circle cx="349.0" cy="959.0" r="8.1"/><circle cx="295.0" cy="956.0" r="8.1"/><circle cx="316.0" cy="959.0" r="8.1"/><circle cx="316.0" cy="963.0" r="8.1"/><circle cx="366.0" cy="960.0" r="8.1"/><circle cx="377.0" cy="957.0" r="8.1"/><circle cx="438.4" cy="959.0" r="8.1"/><circle cx="449.6" cy="961.0" r="8.1"/><circle cx="464.0" cy="956.0" r="8.1"/><circle cx="521.0" cy="961.0" r="8.1"/><circle cx="183.2" cy="962.4" r="8.1"/><circle cx="196.0" cy="969.0" r="8.1"/><circle cx="340.0" cy="965.6" r="8.1"/><circle cx="414.0" cy="965.0" r="8.1"/><circle cx="284.0" cy="970.0" r="8.1"/><circle cx="301.0" cy="970.0" r="8.1"/><circle cx="381.4" cy="970.0" r="8.1"/><circle cx="367.0" cy="973.4" r="8.1"/><circle cx="345.0" cy="975.4" r="8.1"/><circle cx="519.0" cy="970.0" r="8.1"/><circle cx="529.4" cy="973.0" r="8.1"/><circle cx="464.0" cy="974.0" r="8.1"/><circle cx="424.0" cy="973.0" r="8.1"/><circle cx="427.0" cy="973.6" r="8.1"/><circle cx="415.0" cy="977.0" r="8.1"/><circle cx="316.0" cy="977.0" r="8.1"/><circle cx="203.4" cy="979.4" r="8.1"/><circle cx="240.2" cy="977.0" r="8.1"/><circle cx="192.5" cy="990.0" r="8.1"/><circle cx="251.2" cy="986.9" r="8.1"/><circle cx="253.8" cy="987.5" r="8.1"/><circle cx="301.2" cy="988.8" r="8.1"/><circle cx="301.9" cy="996.9" r="8.1"/><circle cx="315.6" cy="982.5" r="8.1"/><circle cx="316.2" cy="987.5" r="8.1"/><circle cx="316.6" cy="987.8" r="8.1"/><circle cx="392.5" cy="985.0" r="8.1"/><circle cx="183.1" cy="1003.8" r="8.1"/><circle cx="195.0" cy="996.2" r="8.1"/><circle cx="203.8" cy="1000.0" r="8.1"/><circle cx="197.5" cy="1003.8" r="8.1"/><circle cx="221.9" cy="999.4" r="8.1"/><circle cx="221.9" cy="1005.6" r="8.1"/><circle cx="240.6" cy="1000.6" r="8.1"/><circle cx="240.6" cy="1006.2" r="8.1"/><circle cx="263.8" cy="998.1" r="8.1"/><circle cx="261.2" cy="1000.6" r="8.1"/><circle cx="373.8" cy="997.5" r="8.1"/><circle cx="375.0" cy="1003.8" r="8.1"/><circle cx="330.0" cy="1001.2" r="8.1"/><circle cx="330.3" cy="1001.5" r="8.1"/><circle cx="341.2" cy="1006.9" r="8.1"/><circle cx="294.4" cy="1008.1" r="8.1"/><circle cx="295.0" cy="1012.5" r="8.1"/><circle cx="232.5" cy="1015.0" r="8.1"/><circle cx="232.5" cy="1022.5" r="8.1"/><circle cx="232.8" cy="1022.8" r="8.1"/><circle cx="241.2" cy="1026.2" r="8.1"/><circle cx="265.6" cy="1016.9" r="8.1"/><circle cx="318.8" cy="1016.2" r="8.1"/><circle cx="319.1" cy="1016.5" r="8.1"/><circle cx="322.5" cy="1017.5" r="8.1"/><circle cx="182.5" cy="1021.2" r="8.1"/><circle cx="288.1" cy="1023.8" r="8.1"/><circle cx="210.0" cy="1023.8" r="8.1"/><circle cx="205.0" cy="1016.2" r="8.1"/><circle cx="221.9" cy="1028.8" r="8.1"/><circle cx="221.9" cy="1033.8" r="8.1"/><circle cx="210.0" cy="1035.0" r="8.1"/><circle cx="206.2" cy="1033.8" r="8.1"/><circle cx="261.0" cy="1029.4" r="8.1"/><circle cx="281.9" cy="1033.1" r="8.1"/><circle cx="301.2" cy="1030.0" r="8.1"/><circle cx="386.2" cy="1023.1" r="8.1"/><circle cx="392.5" cy="1037.5" r="8.1"/><circle cx="374.4" cy="1042.5" r="8.1"/><circle cx="245.0" cy="1042.5" r="8.1"/><circle cx="182.5" cy="1043.8" r="8.1"/><circle cx="395.0" cy="1053.1" r="8.1"/><circle cx="221.9" cy="1051.2" r="8.1"/><circle cx="181.9" cy="1055.0" r="8.1"/><circle cx="193.8" cy="1000.0" r="8.1"/><circle cx="193.1" cy="1006.2" r="8.1"/><circle cx="193.4" cy="1006.5" r="8.1"/><circle cx="193.8" cy="1012.5" r="8.1"/><circle cx="194.1" cy="1012.8" r="8.1"/><circle cx="192.5" cy="1018.8" r="8.1"/><circle cx="192.8" cy="1019.0" r="8.1"/><circle cx="193.8" cy="1025.0" r="8.1"/><circle cx="194.1" cy="1025.3" r="8.1"/><circle cx="193.1" cy="1031.2" r="8.1"/><circle cx="193.4" cy="1031.5" r="8.1"/><circle cx="193.8" cy="1037.5" r="8.1"/><circle cx="194.1" cy="1037.8" r="8.1"/><circle cx="194.4" cy="1043.8" r="8.1"/><circle cx="194.7" cy="1044.0" r="8.1"/><circle cx="193.8" cy="1050.0" r="8.1"/><circle cx="194.1" cy="1050.3" r="8.1"/><circle cx="195.0" cy="1056.2" r="8.1"/><circle cx="195.3" cy="1056.5" r="8.1"/><circle cx="197.5" cy="1052.5" r="8.1"/><circle cx="201.2" cy="1050.0" r="8.1"/><circle cx="203.8" cy="1056.2" r="8.1"/><circle cx="191.2" cy="1060.0" r="8.1"/><circle cx="249.4" cy="1070.6" r="8.1"/><circle cx="252.5" cy="1082.5" r="8.1"/><circle cx="287.5" cy="1077.5" r="8.1"/><circle cx="285.0" cy="1081.2" r="8.1"/><circle cx="285.6" cy="1091.9" r="8.1"/><circle cx="301.2" cy="1083.8" r="8.1"/><circle cx="301.6" cy="1084.0" r="8.1"/><circle cx="301.9" cy="1084.3" r="8.1"/><circle cx="302.5" cy="1093.8" r="8.1"/><circle cx="311.9" cy="1070.6" r="8.1"/><circle cx="315.6" cy="1080.0" r="8.1"/><circle cx="330.0" cy="1063.8" r="8.1"/><circle cx="329.8" cy="1070.6" r="8.1"/><circle cx="329.4" cy="1087.5" r="8.1"/><circle cx="325.0" cy="1092.5" r="8.1"/><circle cx="316.9" cy="1101.9" r="8.1"/><circle cx="316.9" cy="1105.0" r="8.1"/><circle cx="361.9" cy="1074.4" r="8.1"/><circle cx="361.9" cy="1083.8" r="8.1"/><circle cx="355.0" cy="1088.1" r="8.1"/><circle cx="222.5" cy="1098.1" r="8.1"/><circle cx="241.0" cy="1095.6" r="8.1"/><circle cx="181.9" cy="1092.5" r="8.1"/><circle cx="180.0" cy="1087.5" r="8.1"/><circle cx="208.8" cy="1095.0" r="8.1"/><circle cx="209.1" cy="1095.3" r="8.1"/><circle cx="210.0" cy="1100.0" r="8.1"/><circle cx="210.3" cy="1100.3" r="8.1"/><circle cx="209.4" cy="1105.0" r="8.1"/><circle cx="210.0" cy="1109.4" r="8.1"/><circle cx="197.5" cy="1100.0" r="8.1"/><circle cx="197.8" cy="1100.3" r="8.1"/><circle cx="192.5" cy="1097.5" r="8.1"/><circle cx="315.6" cy="1122.5" r="8.1"/><circle cx="301.9" cy="1129.4" r="8.1"/><circle cx="301.9" cy="1133.8" r="8.1"/><circle cx="315.6" cy="1135.0" r="8.1"/><circle cx="301.9" cy="1140.0" r="8.1"/><circle cx="302.5" cy="1143.8" r="8.1"/><circle cx="301.9" cy="1148.8" r="8.1"/><circle cx="285.6" cy="1141.9" r="8.1"/><circle cx="355.0" cy="1131.2" r="8.1"/><circle cx="381.2" cy="1131.2" r="8.1"/><circle cx="395.0" cy="1150.6" r="8.1"/><circle cx="265.6" cy="1154.4" r="8.1"/><circle cx="222.1" cy="1144.4" r="8.1"/><circle cx="195.0" cy="1136.2" r="8.1"/><circle cx="195.3" cy="1136.5" r="8.1"/><circle cx="192.5" cy="1140.0" r="8.1"/><circle cx="191.2" cy="1145.0" r="8.1"/><circle cx="190.0" cy="1150.0" r="8.1"/><circle cx="201.2" cy="1137.5" r="8.1"/><circle cx="201.6" cy="1137.8" r="8.1"/><circle cx="208.8" cy="1133.8" r="8.1"/><circle cx="209.1" cy="1134.0" r="8.1"/><circle cx="210.0" cy="1138.8" r="8.1"/><circle cx="208.8" cy="1143.8" r="8.1"/><circle cx="210.0" cy="1150.0" r="8.1"/><circle cx="200.0" cy="1147.5" r="8.1"/><circle cx="451.9" cy="981.9" r="8.1"/><circle cx="513.8" cy="983.1" r="8.1"/><circle cx="546.9" cy="980.0" r="8.1"/><circle cx="593.1" cy="992.5" r="8.1"/><circle cx="415.6" cy="995.0" r="8.1"/><circle cx="440.0" cy="1006.2" r="8.1"/><circle cx="499.4" cy="1001.9" r="8.1"/><circle cx="519.4" cy="1005.0" r="8.1"/><circle cx="519.4" cy="995.0" r="8.1"/><circle cx="464.4" cy="1012.5" r="8.1"/><circle cx="422.5" cy="1022.5" r="8.1"/><circle cx="449.6" cy="1020.9" r="8.1"/><circle cx="427.5" cy="1031.6" r="8.1"/><circle cx="493.8" cy="1024.4" r="8.1"/><circle cx="520.0" cy="1019.4" r="8.1"/><circle cx="512.5" cy="1026.2" r="8.1"/><circle cx="513.1" cy="1033.1" r="8.1"/><circle cx="536.2" cy="1023.1" r="8.1"/><circle cx="529.4" cy="1036.9" r="8.1"/><circle cx="520.0" cy="1038.8" r="8.1"/><circle cx="520.0" cy="1043.1" r="8.1"/><circle cx="556.2" cy="1035.0" r="8.1"/><circle cx="585.6" cy="1014.8" r="8.1"/><circle cx="636.5" cy="1025.2" r="8.1"/><circle cx="636.8" cy="1025.5" r="8.1"/><circle cx="422.5" cy="1043.8" r="8.1"/><circle cx="438.5" cy="1047.5" r="8.1"/><circle cx="426.2" cy="1053.1" r="8.1"/><circle cx="415.0" cy="1056.9" r="8.1"/><circle cx="464.4" cy="1052.1" r="8.1"/><circle cx="492.1" cy="1045.9" r="8.1"/><circle cx="519.8" cy="1050.0" r="8.1"/><circle cx="519.8" cy="1066.9" r="8.1"/><circle cx="536.2" cy="1065.6" r="8.1"/><circle cx="557.9" cy="1070.0" r="8.1"/><circle cx="499.4" cy="1082.1" r="8.1"/><circle cx="518.1" cy="1092.2" r="8.1"/><circle cx="464.4" cy="1089.6" r="8.1"/><circle cx="451.6" cy="1098.4" r="8.1"/><circle cx="464.1" cy="1101.0" r="8.1"/><circle cx="557.9" cy="1119.1" r="8.1"/><circle cx="438.5" cy="1129.6" r="8.1"/><circle cx="426.2" cy="1135.0" r="8.1"/><circle cx="415.0" cy="1136.2" r="8.1"/><circle cx="422.5" cy="1142.5" r="8.1"/><circle cx="461.9" cy="1139.1" r="8.1"/><circle cx="493.8" cy="1132.5" r="8.1"/><circle cx="513.1" cy="1126.9" r="8.1"/><circle cx="520.0" cy="1127.5" r="8.1"/><circle cx="520.0" cy="1132.5" r="8.1"/><circle cx="528.8" cy="1136.9" r="8.1"/><circle cx="537.5" cy="1141.9" r="8.1"/><circle cx="556.2" cy="1134.1" r="8.1"/><circle cx="585.6" cy="1132.2" r="8.1"/><circle cx="593.0" cy="850.6" r="8.1"/><circle cx="589.4" cy="880.0" r="8.1"/><circle cx="585.6" cy="894.4" r="8.1"/><circle cx="658.0" cy="880.0" r="8.1"/><circle cx="659.4" cy="898.4" r="8.1"/><circle cx="659.4" cy="911.6" r="8.1"/><circle cx="720.4" cy="903.4" r="8.1"/><circle cx="692.8" cy="927.0" r="8.1"/><circle cx="693.1" cy="927.3" r="8.1"/><circle cx="578.0" cy="933.6" r="8.1"/><circle cx="578.0" cy="945.2" r="8.1"/><circle cx="636.4" cy="938.0" r="8.1"/><circle cx="636.4" cy="943.0" r="8.1"/><circle cx="659.4" cy="938.4" r="8.1"/><circle cx="589.4" cy="960.4" r="8.1"/><circle cx="658.0" cy="964.0" r="8.1"/><circle cx="788.0" cy="960.8" r="8.1"/><circle cx="589.4" cy="975.0" r="8.1"/><circle cx="578.0" cy="978.0" r="8.1"/><circle cx="930.0" cy="986.0" r="8.1"/><circle cx="692.8" cy="1010.0" r="8.1"/><circle cx="720.4" cy="1008.6" r="8.1"/><circle cx="692.8" cy="1025.0" r="8.1"/><circle cx="692.8" cy="1030.0" r="8.1"/><circle cx="720.4" cy="1050.0" r="8.1"/><circle cx="449.6" cy="1176.0" r="8.1"/><circle cx="340.6" cy="1187.6" r="8.1"/><circle cx="395.0" cy="1193.6" r="8.1"/><circle cx="422.8" cy="1191.2" r="8.1"/><circle cx="414.0" cy="1202.0" r="8.1"/><circle cx="302.0" cy="1193.4" r="8.1"/><circle cx="315.6" cy="1197.4" r="8.1"/><circle cx="294.6" cy="1206.6" r="8.1"/><circle cx="312.0" cy="1219.2" r="8.1"/><circle cx="520.4" cy="1197.0" r="8.1"/><circle cx="529.4" cy="1197.0" r="8.1"/><circle cx="252.6" cy="1207.6" r="8.1"/><circle cx="247.4" cy="1220.6" r="8.1"/><circle cx="194.0" cy="1204.4" r="8.1"/><circle cx="208.6" cy="1206.0" r="8.1"/><circle cx="189.0" cy="1210.0" r="8.1"/><circle cx="193.0" cy="1216.0" r="8.1"/><circle cx="209.4" cy="1222.4" r="8.1"/><circle cx="203.2" cy="1309.6" r="8.1"/><circle cx="181.4" cy="1315.6" r="8.1"/><circle cx="195.6" cy="1325.6" r="8.1"/><circle cx="216.0" cy="1338.4" r="8.1"/><circle cx="249.4" cy="1344.4" r="8.1"/><circle cx="302.4" cy="1326.6" r="8.1"/><circle cx="295.0" cy="1339.0" r="8.1"/><circle cx="373.4" cy="1329.4" r="8.1"/><circle cx="422.4" cy="1322.4" r="8.1"/><circle cx="464.2" cy="1311.4" r="8.1"/><circle cx="520.8" cy="1319.0" r="8.1"/><circle cx="930.0" cy="1198.4" r="8.1"/><circle cx="636.6" cy="1315.6" r="8.1"/><circle cx="197.5" cy="1044.4" r="8.1"/><circle cx="200.0" cy="1050.6" r="8.1"/><circle cx="203.8" cy="1053.8" r="8.1"/><circle cx="195.0" cy="1056.9" r="8.1"/><circle cx="191.2" cy="1060.0" r="8.1"/><circle cx="205.6" cy="1048.8" r="8.1"/><circle cx="185.6" cy="1093.1" r="8.1"/><circle cx="185.9" cy="1093.4" r="8.1"/><circle cx="190.0" cy="1096.2" r="8.1"/><circle cx="190.3" cy="1096.5" r="8.1"/><circle cx="195.0" cy="1095.0" r="8.1"/><circle cx="195.3" cy="1095.3" r="8.1"/><circle cx="200.0" cy="1093.8" r="8.1"/><circle cx="186.9" cy="1099.4" r="8.1"/><circle cx="187.2" cy="1099.7" r="8.1"/><circle cx="193.1" cy="1100.0" r="8.1"/><circle cx="193.4" cy="1100.3" r="8.1"/><circle cx="197.5" cy="1058.8" r="8.1"/><circle cx="202.5" cy="1061.9" r="8.1"/></g>
<g fill="url(#d)"><circle cx="1216.6" cy="810.8" r="8.1"/><circle cx="1322.6" cy="824.4" r="8.1"/><circle cx="1131.2" cy="919.6" r="8.1"/><circle cx="1193.2" cy="913.2" r="8.1"/><circle cx="1396.0" cy="915.8" r="8.1"/><circle cx="1252.0" cy="934.0" r="8.1"/><circle cx="1234.4" cy="946.0" r="8.1"/><circle cx="1361.0" cy="952.8" r="8.1"/><circle cx="1254.0" cy="958.8" r="8.1"/><circle cx="1228.8" cy="968.6" r="8.1"/><circle cx="1305.0" cy="970.4" r="8.1"/><circle cx="1305.3" cy="970.7" r="8.1"/><circle cx="1322.6" cy="974.0" r="8.1"/><circle cx="1252.0" cy="975.0" r="8.1"/><circle cx="1402.4" cy="976.6" r="8.1"/><circle cx="1132.0" cy="979.8" r="8.1"/><circle cx="1161.8" cy="976.2" r="8.1"/><circle cx="1295.0" cy="986.6" r="8.1"/><circle cx="1295.3" cy="986.9" r="8.1"/><circle cx="1254.0" cy="986.0" r="8.1"/><circle cx="1361.0" cy="986.4" r="8.1"/><circle cx="1254.0" cy="997.0" r="8.1"/><circle cx="1191.4" cy="996.0" r="8.1"/><circle cx="1396.0" cy="995.0" r="8.1"/><circle cx="1203.6" cy="1012.0" r="8.1"/><circle cx="1159.8" cy="1015.0" r="8.1"/><circle cx="1180.0" cy="1013.6" r="8.1"/><circle cx="1180.3" cy="1013.9" r="8.1"/><circle cx="1176.6" cy="1023.0" r="8.1"/><circle cx="1348.4" cy="1016.6" r="8.1"/><circle cx="1361.0" cy="1024.0" r="8.1"/><circle cx="1411.4" cy="1022.0" r="8.1"/><circle cx="1131.0" cy="1033.8" r="8.1"/><circle cx="1218.1" cy="1036.2" r="8.1"/><circle cx="1203.8" cy="1043.8" r="8.1"/><circle cx="1234.4" cy="1037.5" r="8.1"/><circle cx="1234.7" cy="1037.8" r="8.1"/><circle cx="1244.4" cy="1030.6" r="8.1"/><circle cx="1252.5" cy="1041.2" r="8.1"/><circle cx="1247.5" cy="1041.2" r="8.1"/><circle cx="1271.2" cy="1037.5" r="8.1"/><circle cx="1275.0" cy="1036.2" r="8.1"/><circle cx="1348.1" cy="1038.8" r="8.1"/><circle cx="1148.1" cy="1047.5" r="8.1"/><circle cx="1148.4" cy="1047.8" r="8.1"/><circle cx="1132.5" cy="1046.2" r="8.1"/><circle cx="1132.8" cy="1046.5" r="8.1"/><circle cx="1131.2" cy="1050.0" r="8.1"/><circle cx="1131.5" cy="1050.3" r="8.1"/><circle cx="1133.8" cy="1055.0" r="8.1"/><circle cx="1134.0" cy="1055.3" r="8.1"/><circle cx="1132.5" cy="1060.0" r="8.1"/><circle cx="1132.8" cy="1060.3" r="8.1"/><circle cx="1135.0" cy="1065.0" r="8.1"/><circle cx="1131.2" cy="1067.5" r="8.1"/><circle cx="1137.5" cy="1072.5" r="8.1"/><circle cx="1148.1" cy="1063.8" r="8.1"/><circle cx="1178.5" cy="1058.8" r="8.1"/><circle cx="1216.2" cy="1065.6" r="8.1"/><circle cx="1247.5" cy="1055.0" r="8.1"/><circle cx="1166.9" cy="1075.0" r="8.1"/><circle cx="1167.5" cy="1077.5" r="8.1"/><circle cx="1178.1" cy="1080.0" r="8.1"/><circle cx="1191.9" cy="1078.1" r="8.1"/><circle cx="1126.2" cy="1082.5" r="8.1"/><circle cx="1128.8" cy="1087.5" r="8.1"/><circle cx="1129.0" cy="1087.8" r="8.1"/><circle cx="1126.2" cy="1092.5" r="8.1"/><circle cx="1126.5" cy="1092.8" r="8.1"/><circle cx="1131.2" cy="1095.0" r="8.1"/><circle cx="1131.5" cy="1095.3" r="8.1"/><circle cx="1128.8" cy="1098.8" r="8.1"/><circle cx="1129.0" cy="1099.0" r="8.1"/><circle cx="1145.0" cy="1086.2" r="8.1"/><circle cx="1145.3" cy="1086.5" r="8.1"/><circle cx="1147.5" cy="1087.5" r="8.1"/><circle cx="1135.0" cy="1090.0" r="8.1"/><circle cx="1126.2" cy="1102.5" r="8.1"/><circle cx="1126.2" cy="1107.5" r="8.1"/><circle cx="1161.9" cy="1093.8" r="8.1"/><circle cx="1178.8" cy="1092.5" r="8.1"/><circle cx="1250.0" cy="1072.5" r="8.1"/><circle cx="1271.2" cy="1070.6" r="8.1"/><circle cx="1275.0" cy="1067.5" r="8.1"/><circle cx="1275.0" cy="1077.5" r="8.1"/><circle cx="1274.8" cy="1087.5" r="8.1"/><circle cx="1295.0" cy="1079.0" r="8.1"/><circle cx="1322.8" cy="1073.1" r="8.1"/><circle cx="1247.2" cy="1086.2" r="8.1"/><circle cx="1227.5" cy="1087.5" r="8.1"/><circle cx="1228.1" cy="1093.1" r="8.1"/><circle cx="1233.1" cy="1106.2" r="8.1"/><circle cx="1247.5" cy="1102.5" r="8.1"/><circle cx="1126.2" cy="1124.4" r="8.1"/><circle cx="1137.5" cy="1115.0" r="8.1"/><circle cx="1226.0" cy="1128.5" r="8.1"/><circle cx="1269.4" cy="1125.6" r="8.1"/><circle cx="1269.4" cy="1135.0" r="8.1"/><circle cx="1305.0" cy="1127.2" r="8.1"/><circle cx="1305.3" cy="1127.5" r="8.1"/><circle cx="1305.0" cy="1145.6" r="8.1"/><circle cx="1305.3" cy="1145.9" r="8.1"/><circle cx="1217.8" cy="1142.5" r="8.1"/><circle cx="1195.0" cy="1151.9" r="8.1"/><circle cx="1156.9" cy="1133.8" r="8.1"/><circle cx="1160.0" cy="1148.8" r="8.1"/><circle cx="1170.6" cy="1146.9" r="8.1"/><circle cx="1170.9" cy="1150.0" r="8.1"/><circle cx="1147.5" cy="1137.5" r="8.1"/><circle cx="1147.8" cy="1137.8" r="8.1"/><circle cx="1148.8" cy="1145.0" r="8.1"/><circle cx="1149.0" cy="1145.3" r="8.1"/><circle cx="1145.0" cy="1147.5" r="8.1"/><circle cx="1128.8" cy="1145.0" r="8.1"/><circle cx="1129.0" cy="1145.3" r="8.1"/><circle cx="1126.2" cy="1150.0" r="8.1"/><circle cx="1126.5" cy="1150.3" r="8.1"/><circle cx="1131.2" cy="1151.2" r="8.1"/><circle cx="1131.5" cy="1151.5" r="8.1"/><circle cx="1127.9" cy="1195.0" r="8.1"/><circle cx="1161.6" cy="1198.8" r="8.1"/><circle cx="1411.4" cy="1046.0" r="8.1"/><circle cx="1376.6" cy="1058.0" r="8.1"/><circle cx="1658.6" cy="1074.6" r="8.1"/><circle cx="1395.8" cy="1121.0" r="8.1"/><circle cx="1411.4" cy="1123.0" r="8.1"/><circle cx="1502.4" cy="1144.4" r="8.1"/><circle cx="1396.0" cy="1196.4" r="8.1"/><circle cx="1396.0" cy="1309.4" r="8.1"/><circle cx="1521.6" cy="996.0" r="8.1"/><circle cx="1658.8" cy="1010.4" r="8.1"/><circle cx="1176.0" cy="1207.0" r="8.1"/><circle cx="1148.0" cy="1206.0" r="8.1"/><circle cx="1148.0" cy="1210.0" r="8.1"/><circle cx="1148.0" cy="1215.0" r="8.1"/><circle cx="1130.0" cy="1205.0" r="8.1"/><circle cx="1130.3" cy="1205.3" r="8.1"/><circle cx="1129.0" cy="1209.0" r="8.1"/><circle cx="1129.3" cy="1209.3" r="8.1"/><circle cx="1130.0" cy="1213.0" r="8.1"/><circle cx="1130.3" cy="1213.3" r="8.1"/><circle cx="1128.0" cy="1217.0" r="8.1"/><circle cx="1131.0" cy="1208.0" r="8.1"/><circle cx="1295.0" cy="1304.4" r="8.1"/><circle cx="1161.6" cy="1316.6" r="8.1"/><circle cx="1154.0" cy="1327.4" r="8.1"/><circle cx="1126.0" cy="1326.0" r="8.1"/><circle cx="1131.4" cy="1328.0" r="8.1"/><circle cx="1131.7" cy="1328.3" r="8.1"/><circle cx="1132.0" cy="1328.6" r="8.1"/></g>
<path d="M182.8 362.9L191.9 362.6L201.0 362.3L210.1 361.8L219.1 361.3L228.2 360.7L237.3 359.9L246.4 359.1L255.5 358.1L264.6 357.0L273.7 355.9L282.7 354.6L291.8 353.2L300.9 351.8L310.0 350.2L319.1 348.6L328.2 346.9L337.3 345.2L346.3 343.5L355.4 341.7L364.5 339.8L373.6 338.0L382.7 336.1L391.8 334.2L400.9 332.3L409.9 330.4L419.0 328.5L428.1 326.6L437.2 324.7L446.3 322.7L455.4 320.8L464.5 318.8L473.5 316.9L482.6 314.9L491.7 312.9L500.8 310.9L509.9 308.9L519.0 306.8L528.0 304.7L537.1 302.5L546.2 300.3L555.3 298.1L564.4 295.8L573.5 293.4L582.6 290.9L591.6 288.4L600.7 285.8L609.8 283.1L618.9 280.3L628.0 277.4L637.1 274.4L646.2 271.4L655.2 268.2L664.3 265.0L673.4 261.7L682.5 258.3L691.6 254.8L700.7 251.2L709.8 247.5L718.8 243.8L727.9 239.9L737.0 236.0L746.1 232.0L755.2 228.0L764.3 223.8L773.4 219.6L782.4 215.3L791.5 210.9L800.6 206.5L809.7 201.9L809.7 286.8L800.6 287.5L791.5 288.2L782.4 288.9L773.4 289.7L764.3 290.5L755.2 291.4L746.1 292.3L737.0 293.3L727.9 294.3L718.8 295.3L709.8 296.4L700.7 297.5L691.6 298.7L682.5 299.9L673.4 301.2L664.3 302.5L655.2 303.8L646.2 305.3L637.1 306.8L628.0 308.3L618.9 309.9L609.8 311.5L600.7 313.2L591.6 314.9L582.6 316.7L573.5 318.6L564.4 320.4L555.3 322.3L546.2 324.2L537.1 326.2L528.0 328.1L519.0 330.0L509.9 332.0L500.8 333.9L491.7 335.9L482.6 337.8L473.5 339.7L464.5 341.6L455.4 343.4L446.3 345.2L437.2 347.0L428.1 348.8L419.0 350.5L409.9 352.2L400.9 353.9L391.8 355.5L382.7 357.2L373.6 358.8L364.5 360.3L355.4 361.9L346.3 363.5L337.3 365.0L328.2 366.6L319.1 368.2L310.0 369.8L300.9 371.4L291.8 373.1L282.7 374.8L273.7 376.6L264.6 378.5L255.5 380.4L246.4 382.4L237.3 384.4L228.2 386.6L219.1 388.8L210.1 391.0L201.0 393.4L191.9 395.8L182.8 398.2Z" fill="#afafaf" fill-opacity=".72"/>
<path d="M182.8 380.5L191.9 379.2L201.0 377.8L210.1 376.4L219.1 375.0L228.2 373.6L237.3 372.2L246.4 370.7L255.5 369.2L264.6 367.7L273.7 366.2L282.7 364.7L291.8 363.2L300.9 361.6L310.0 360.0L319.1 358.4L328.2 356.8L337.3 355.1L346.3 353.5L355.4 351.8L364.5 350.1L373.6 348.4L382.7 346.6L391.8 344.9L400.9 343.1L409.9 341.3L419.0 339.5L428.1 337.7L437.2 335.8L446.3 334.0L455.4 332.1L464.5 330.2L473.5 328.3L482.6 326.3L491.7 324.4L500.8 322.4L509.9 320.4L519.0 318.4L528.0 316.4L537.1 314.3L546.2 312.3L555.3 310.2L564.4 308.1L573.5 306.0L582.6 303.8L591.6 301.7L600.7 299.5L609.8 297.3L618.9 295.1L628.0 292.9L637.1 290.6L646.2 288.3L655.2 286.0L664.3 283.7L673.4 281.4L682.5 279.1L691.6 276.7L700.7 274.3L709.8 271.9L718.8 269.5L727.9 267.1L737.0 264.6L746.1 262.2L755.2 259.7L764.3 257.2L773.4 254.6L782.4 252.1L791.5 249.5L800.6 247.0L809.7 244.4" fill="none" stroke="#000" stroke-width="8" stroke-linejoin="round"/>
<path d="M1125.6 384.1L1137.6 380.3L1149.6 376.7L1161.6 373.0L1173.7 369.5L1185.7 366.0L1197.7 362.5L1209.7 359.1L1221.7 355.6L1233.7 352.2L1245.7 348.8L1257.8 345.5L1269.8 342.1L1281.8 338.8L1293.8 335.6L1305.8 332.4L1317.8 329.3L1329.8 326.3L1341.9 323.4L1353.9 320.7L1365.9 318.0L1377.9 315.5L1389.9 313.2L1401.9 310.9L1413.9 308.8L1426.0 306.9L1438.0 305.0L1450.0 303.4L1462.0 301.8L1474.0 300.4L1486.0 299.1L1498.0 298.0L1510.1 296.9L1522.1 296.1L1534.1 295.3L1546.1 294.6L1558.1 294.1L1570.1 293.7L1582.2 293.4L1594.2 293.2L1606.2 293.1L1618.2 293.1L1630.2 293.3L1642.2 293.5L1654.2 293.8L1666.3 294.1L1678.3 294.6L1690.3 295.2L1702.3 295.8L1714.3 296.5L1726.3 297.3L1738.3 298.2L1750.4 299.1L1762.4 300.2L1774.4 301.3L1786.4 302.4L1798.4 303.7L1810.4 305.0L1822.4 306.4L1834.5 307.9L1846.5 309.4L1858.5 311.1L1870.5 312.8L1882.5 314.6L1894.5 316.4L1906.5 318.4L1918.6 320.4L1930.6 322.5L1942.6 324.7L1954.6 327.0L1954.6 408.0L1942.6 402.5L1930.6 397.1L1918.6 391.9L1906.5 386.9L1894.5 382.1L1882.5 377.5L1870.5 373.0L1858.5 368.7L1846.5 364.5L1834.5 360.6L1822.4 356.8L1810.4 353.2L1798.4 349.8L1786.4 346.6L1774.4 343.5L1762.4 340.6L1750.4 337.9L1738.3 335.4L1726.3 333.0L1714.3 330.9L1702.3 328.9L1690.3 327.0L1678.3 325.4L1666.3 323.9L1654.2 322.6L1642.2 321.4L1630.2 320.5L1618.2 319.6L1606.2 319.0L1594.2 318.4L1582.2 318.1L1570.1 317.8L1558.1 317.8L1546.1 317.8L1534.1 318.0L1522.1 318.3L1510.1 318.8L1498.0 319.4L1486.0 320.1L1474.0 320.9L1462.0 321.9L1450.0 322.9L1438.0 324.1L1426.0 325.4L1413.9 326.8L1401.9 328.3L1389.9 330.0L1377.9 331.8L1365.9 333.6L1353.9 335.7L1341.9 337.8L1329.8 340.1L1317.8 342.5L1305.8 345.0L1293.8 347.8L1281.8 350.7L1269.8 353.8L1257.8 357.1L1245.7 360.7L1233.7 364.5L1221.7 368.5L1209.7 372.8L1197.7 377.3L1185.7 382.0L1173.7 386.9L1161.6 392.1L1149.6 397.4L1137.6 403.0L1125.6 408.7Z" fill="#afafaf" fill-opacity=".72"/>
<path d="M1125.6 396.4L1137.6 391.6L1149.6 387.0L1161.6 382.6L1173.7 378.2L1185.7 374.0L1197.7 369.9L1209.7 365.9L1221.7 362.1L1233.7 358.4L1245.7 354.8L1257.8 351.3L1269.8 348.0L1281.8 344.8L1293.8 341.7L1305.8 338.7L1317.8 335.9L1329.8 333.2L1341.9 330.6L1353.9 328.2L1365.9 325.8L1377.9 323.6L1389.9 321.6L1401.9 319.6L1413.9 317.8L1426.0 316.1L1438.0 314.6L1450.0 313.1L1462.0 311.8L1474.0 310.6L1486.0 309.6L1498.0 308.7L1510.1 307.9L1522.1 307.2L1534.1 306.7L1546.1 306.2L1558.1 305.9L1570.1 305.8L1582.2 305.7L1594.2 305.8L1606.2 306.0L1618.2 306.4L1630.2 306.9L1642.2 307.5L1654.2 308.2L1666.3 309.0L1678.3 310.0L1690.3 311.1L1702.3 312.3L1714.3 313.7L1726.3 315.2L1738.3 316.8L1750.4 318.5L1762.4 320.4L1774.4 322.4L1786.4 324.5L1798.4 326.7L1810.4 329.1L1822.4 331.6L1834.5 334.2L1846.5 337.0L1858.5 339.9L1870.5 342.9L1882.5 346.0L1894.5 349.3L1906.5 352.7L1918.6 356.2L1930.6 359.8L1942.6 363.6L1954.6 367.5" fill="none" stroke="#000" stroke-width="8" stroke-linejoin="round"/>
<path d="M181.6 1068.3L192.4 1064.2L203.3 1060.1L214.1 1056.0L225.0 1052.0L235.8 1047.9L246.7 1043.9L257.5 1039.9L268.4 1035.9L279.2 1031.9L290.1 1028.0L300.9 1024.2L311.8 1020.5L322.6 1016.9L333.4 1013.4L344.3 1010.0L355.1 1006.8L366.0 1003.8L376.8 1000.8L387.7 998.1L398.5 995.5L409.4 993.0L420.2 990.7L431.1 988.6L441.9 986.6L452.8 984.8L463.6 983.1L474.5 981.6L485.3 980.1L496.1 978.9L507.0 977.7L517.8 976.6L528.7 975.6L539.5 974.7L550.4 973.8L561.2 973.0L572.1 972.3L582.9 971.6L593.8 971.0L604.6 970.4L615.5 969.8L626.3 969.3L637.1 968.8L648.0 968.4L658.8 967.9L669.7 967.6L680.5 967.2L691.4 967.0L702.2 966.7L713.1 966.5L723.9 966.4L734.8 966.3L745.6 966.3L756.5 966.3L767.3 966.4L778.2 966.5L789.0 966.7L799.8 966.9L810.7 967.3L821.5 967.6L832.4 968.1L843.2 968.6L854.1 969.1L864.9 969.7L875.8 970.4L886.6 971.2L897.5 972.0L908.3 972.9L919.2 973.8L930.0 974.8L930.0 1151.8L919.2 1143.7L908.3 1135.8L897.5 1128.1L886.6 1120.6L875.8 1113.3L864.9 1106.3L854.1 1099.5L843.2 1092.9L832.4 1086.6L821.5 1080.4L810.7 1074.5L799.8 1068.8L789.0 1063.4L778.2 1058.2L767.3 1053.2L756.5 1048.4L745.6 1043.9L734.8 1039.6L723.9 1035.5L713.1 1031.6L702.2 1028.0L691.4 1024.7L680.5 1021.6L669.7 1018.7L658.8 1016.1L648.0 1013.7L637.1 1011.5L626.3 1009.7L615.5 1008.0L604.6 1006.6L593.8 1005.5L582.9 1004.6L572.1 1004.0L561.2 1003.6L550.4 1003.4L539.5 1003.4L528.7 1003.7L517.8 1004.2L507.0 1004.9L496.1 1005.7L485.3 1006.8L474.5 1008.0L463.6 1009.3L452.8 1010.9L441.9 1012.5L431.1 1014.3L420.2 1016.2L409.4 1018.3L398.5 1020.5L387.7 1022.8L376.8 1025.2L366.0 1027.8L355.1 1030.5L344.3 1033.4L333.4 1036.4L322.6 1039.5L311.8 1042.9L300.9 1046.4L290.1 1050.0L279.2 1054.0L268.4 1058.1L257.5 1062.5L246.7 1067.1L235.8 1072.0L225.0 1077.2L214.1 1082.6L203.3 1088.4L192.4 1094.4L181.6 1100.7Z" fill="#afafaf" fill-opacity=".72"/>
<path d="M181.6 1084.5L192.4 1079.3L203.3 1074.2L214.1 1069.3L225.0 1064.6L235.8 1060.0L246.7 1055.5L257.5 1051.2L268.4 1047.0L279.2 1042.9L290.1 1039.0L300.9 1035.3L311.8 1031.7L322.6 1028.2L333.4 1024.9L344.3 1021.7L355.1 1018.7L366.0 1015.8L376.8 1013.0L387.7 1010.4L398.5 1008.0L409.4 1005.7L420.2 1003.5L431.1 1001.5L441.9 999.6L452.8 997.8L463.6 996.2L474.5 994.8L485.3 993.5L496.1 992.3L507.0 991.3L517.8 990.4L528.7 989.6L539.5 989.1L550.4 988.6L561.2 988.3L572.1 988.1L582.9 988.1L593.8 988.2L604.6 988.5L615.5 988.9L626.3 989.5L637.1 990.2L648.0 991.0L658.8 992.0L669.7 993.1L680.5 994.4L691.4 995.8L702.2 997.4L713.1 999.1L723.9 1000.9L734.8 1002.9L745.6 1005.1L756.5 1007.3L767.3 1009.8L778.2 1012.3L789.0 1015.0L799.8 1017.9L810.7 1020.9L821.5 1024.0L832.4 1027.3L843.2 1030.7L854.1 1034.3L864.9 1038.0L875.8 1041.9L886.6 1045.9L897.5 1050.0L908.3 1054.3L919.2 1058.7L930.0 1063.3" fill="none" stroke="#000" stroke-width="8" stroke-linejoin="round"/>
<path d="M1126.9 1115.9L1134.6 1112.0L1142.3 1108.0L1150.0 1104.0L1157.7 1099.8L1165.4 1095.5L1173.1 1091.0L1180.9 1086.4L1188.6 1081.7L1196.3 1076.9L1204.0 1072.1L1211.7 1067.3L1219.4 1062.6L1227.1 1058.0L1234.8 1053.5L1242.5 1049.2L1250.2 1045.0L1257.9 1041.0L1265.6 1037.2L1273.3 1033.5L1281.0 1030.0L1288.8 1026.8L1296.5 1023.7L1304.2 1020.8L1311.9 1018.0L1319.6 1015.5L1327.3 1013.1L1335.0 1010.9L1342.7 1008.8L1350.4 1007.0L1358.1 1005.2L1365.8 1003.6L1373.5 1002.2L1381.2 1000.9L1388.9 999.7L1396.7 998.6L1404.4 997.7L1412.1 996.8L1419.8 996.0L1427.5 995.3L1435.2 994.7L1442.9 994.1L1450.6 993.6L1458.3 993.2L1466.0 992.7L1473.7 992.4L1481.4 992.0L1489.1 991.7L1496.8 991.4L1504.6 991.2L1512.3 990.9L1520.0 990.7L1527.7 990.6L1535.4 990.4L1543.1 990.3L1550.8 990.2L1558.5 990.1L1566.2 990.1L1573.9 990.1L1581.6 990.1L1589.3 990.1L1597.0 990.2L1604.7 990.3L1612.5 990.5L1620.2 990.7L1627.9 990.9L1635.6 991.2L1643.3 991.5L1651.0 991.8L1658.7 992.2L1658.7 1200.7L1651.0 1192.2L1643.3 1183.8L1635.6 1175.8L1627.9 1168.0L1620.2 1160.4L1612.5 1153.1L1604.7 1146.1L1597.0 1139.3L1589.3 1132.8L1581.6 1126.6L1573.9 1120.6L1566.2 1114.9L1558.5 1109.4L1550.8 1104.2L1543.1 1099.3L1535.4 1094.7L1527.7 1090.3L1520.0 1086.2L1512.3 1082.3L1504.6 1078.8L1496.8 1075.5L1489.1 1072.4L1481.4 1069.7L1473.7 1067.2L1466.0 1064.9L1458.3 1063.0L1450.6 1061.2L1442.9 1059.8L1435.2 1058.5L1427.5 1057.5L1419.8 1056.7L1412.1 1056.2L1404.4 1055.8L1396.7 1055.6L1388.9 1055.7L1381.2 1055.9L1373.5 1056.3L1365.8 1056.8L1358.1 1057.5L1350.4 1058.4L1342.7 1059.4L1335.0 1060.5L1327.3 1061.8L1319.6 1063.2L1311.9 1064.7L1304.2 1066.3L1296.5 1068.0L1288.8 1069.9L1281.0 1071.8L1273.3 1073.9L1265.6 1076.1L1257.9 1078.4L1250.2 1080.8L1242.5 1083.4L1234.8 1086.1L1227.1 1088.9L1219.4 1091.9L1211.7 1095.1L1204.0 1098.6L1196.3 1102.3L1188.6 1106.3L1180.9 1110.6L1173.1 1115.4L1165.4 1120.6L1157.7 1126.3L1150.0 1132.4L1142.3 1138.9L1134.6 1145.8L1126.9 1153.1Z" fill="#afafaf" fill-opacity=".72"/>
<path d="M1126.9 1134.5L1134.6 1128.9L1142.3 1123.5L1150.0 1118.2L1157.7 1113.0L1165.4 1108.0L1173.1 1103.2L1180.9 1098.5L1188.6 1094.0L1196.3 1089.6L1204.0 1085.3L1211.7 1081.2L1219.4 1077.3L1227.1 1073.4L1234.8 1069.8L1242.5 1066.3L1250.2 1062.9L1257.9 1059.7L1265.6 1056.6L1273.3 1053.7L1281.0 1050.9L1288.8 1048.3L1296.5 1045.8L1304.2 1043.5L1311.9 1041.3L1319.6 1039.3L1327.3 1037.4L1335.0 1035.7L1342.7 1034.1L1350.4 1032.7L1358.1 1031.4L1365.8 1030.2L1373.5 1029.2L1381.2 1028.4L1388.9 1027.7L1396.7 1027.1L1404.4 1026.7L1412.1 1026.5L1419.8 1026.4L1427.5 1026.4L1435.2 1026.6L1442.9 1026.9L1450.6 1027.4L1458.3 1028.1L1466.0 1028.8L1473.7 1029.8L1481.4 1030.8L1489.1 1032.1L1496.8 1033.4L1504.6 1035.0L1512.3 1036.6L1520.0 1038.5L1527.7 1040.4L1535.4 1042.5L1543.1 1044.8L1550.8 1047.2L1558.5 1049.8L1566.2 1052.5L1573.9 1055.3L1581.6 1058.3L1589.3 1061.5L1597.0 1064.8L1604.7 1068.2L1612.5 1071.8L1620.2 1075.5L1627.9 1079.4L1635.6 1083.5L1643.3 1087.7L1651.0 1092.0L1658.7 1096.5" fill="none" stroke="#000" stroke-width="8" stroke-linejoin="round"/>
<g font-family="'Liberation Sans', Arial, Helvetica, sans-serif"><text x="599.2" y="27.4" font-size="31.2" text-anchor="middle" fill="#1a1a1a">Spring</text><text x="1537.4" y="27.4" font-size="31.2" text-anchor="middle" fill="#1a1a1a">Summer</text><text x="599.2" y="731.6" font-size="31.2" text-anchor="middle" fill="#1a1a1a">Autumn</text><text x="1537.4" y="731.6" font-size="31.2" text-anchor="middle" fill="#1a1a1a">Winter</text><text x="122" y="185.0" font-size="31.2" text-anchor="end" fill="#424242">1</text><text x="122" y="358.8" font-size="31.2" text-anchor="end" fill="#424242">0</text><text x="122" y="532.6" font-size="31.2" text-anchor="end" fill="#424242">-1</text><text x="122" y="889.1" font-size="31.2" text-anchor="end" fill="#424242">1</text><text x="122" y="1062.9" font-size="31.2" text-anchor="end" fill="#424242">0</text><text x="122" y="1236.8" font-size="31.2" text-anchor="end" fill="#424242">-1</text><text x="396.0" y="1414" font-size="31.2" text-anchor="middle" fill="#424242">500</text><text x="661.5" y="1414" font-size="31.2" text-anchor="middle" fill="#424242">1000</text><text x="927.0" y="1414" font-size="31.2" text-anchor="middle" fill="#424242">1500</text><text x="1334.5" y="1414" font-size="31.2" text-anchor="middle" fill="#424242">500</text><text x="1600.0" y="1414" font-size="31.2" text-anchor="middle" fill="#424242">1000</text><text x="1865.5" y="1414" font-size="31.2" text-anchor="middle" fill="#424242">1500</text><text x="1068.4" y="1459.6" font-size="39" text-anchor="middle" fill="#000">Elevation [m a.s.l.]</text><text transform="translate(33.2,715.6) rotate(-90)" font-size="39.2" text-anchor="middle" fill="#000">Flea species richness</text><text transform="translate(75.2,710.2) rotate(-90)" font-size="39.2" text-anchor="middle" fill="#000">corrected for host sampling effort</text></g>
</svg>
</body></html>
